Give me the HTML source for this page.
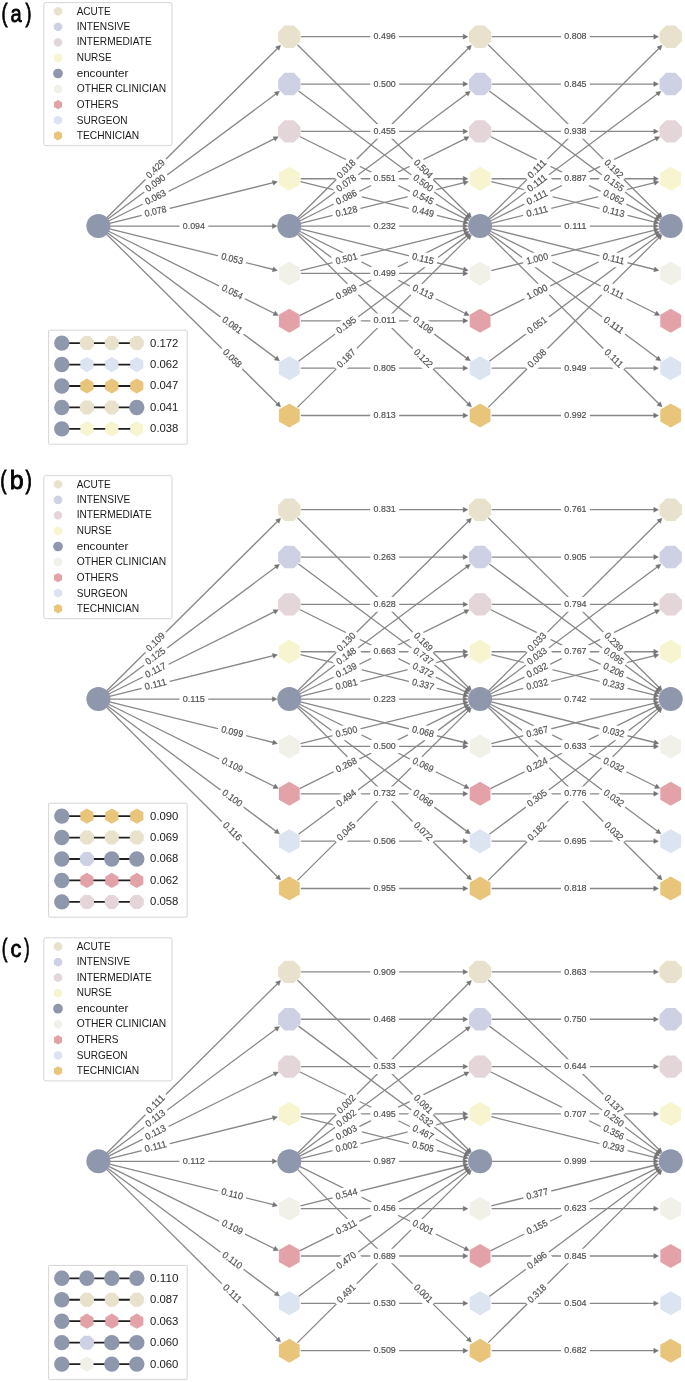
<!DOCTYPE html>
<html><head><meta charset="utf-8"><style>
html,body{margin:0;padding:0;background:#fff;}
svg{display:block;will-change:transform;}
text{font-family:"Liberation Sans",sans-serif;}
.e line{stroke:#888888;stroke-width:1.3;}
.h polygon{fill:#747474;stroke:#747474;stroke-width:0.4;stroke-linejoin:miter;}
.l rect{fill:#fff;}
.l text{font-size:9.5px;fill:#505050;stroke:#505050;stroke-width:0.18px;text-anchor:middle;}
.tag{font-size:27px;fill:#000;stroke:#000;stroke-width:0.9px;}
.lg{fill:#fff;fill-opacity:0.8;stroke:#d5d5d5;stroke-width:1;}
.lt{font-size:10.2px;fill:#1a1a1a;}
.pv{font-size:10.3px;fill:#1a1a1a;}
.pl{stroke:#1f1f1f;stroke-width:1.8;}
</style></head><body>
<svg width="685" height="1382" viewBox="0 0 685 1382">
<rect width="685" height="1382" fill="#fff"/>
<g class="e"><line x1="106.56" y1="218" x2="277.66" y2="48.25"/>
<line x1="107.63" y1="219.23" x2="276.14" y2="93.84"/>
<line x1="108.7" y1="220.99" x2="274.61" y2="138.69"/>
<line x1="109.56" y1="223.33" x2="273.38" y2="182.7"/>
<line x1="109.9" y1="226.1" x2="272.9" y2="226.1"/>
<line x1="109.56" y1="228.87" x2="273.38" y2="269.5"/>
<line x1="108.7" y1="231.21" x2="274.61" y2="313.51"/>
<line x1="107.63" y1="232.97" x2="276.14" y2="358.36"/>
<line x1="106.56" y1="234.2" x2="277.66" y2="403.95"/>
<line x1="300.8" y1="36.7" x2="463.7" y2="36.7"/>
<line x1="300.8" y1="84.05" x2="463.7" y2="84.05"/>
<line x1="300.8" y1="131.4" x2="463.7" y2="131.4"/>
<line x1="300.8" y1="178.75" x2="463.7" y2="178.75"/>
<line x1="300.8" y1="273.45" x2="463.7" y2="273.45"/>
<line x1="300.8" y1="320.8" x2="463.7" y2="320.8"/>
<line x1="300.8" y1="368.15" x2="463.7" y2="368.15"/>
<line x1="300.8" y1="415.5" x2="463.7" y2="415.5"/>
<line x1="297.46" y1="44.8" x2="468.46" y2="214.55"/>
<line x1="298.52" y1="90.92" x2="466.95" y2="216.31"/>
<line x1="299.6" y1="136.51" x2="465.41" y2="218.81"/>
<line x1="300.46" y1="181.52" x2="464.18" y2="222.15"/>
<line x1="300.46" y1="270.68" x2="464.18" y2="230.05"/>
<line x1="299.6" y1="315.69" x2="465.41" y2="233.39"/>
<line x1="298.52" y1="361.28" x2="466.95" y2="235.89"/>
<line x1="297.46" y1="407.4" x2="468.46" y2="237.65"/>
<line x1="297.46" y1="218" x2="468.46" y2="48.25"/>
<line x1="298.52" y1="219.23" x2="466.95" y2="93.84"/>
<line x1="299.6" y1="220.99" x2="465.41" y2="138.69"/>
<line x1="300.46" y1="223.33" x2="464.18" y2="182.7"/>
<line x1="300.8" y1="226.1" x2="463.7" y2="226.1"/>
<line x1="300.46" y1="228.87" x2="464.18" y2="269.5"/>
<line x1="299.6" y1="231.21" x2="465.41" y2="313.51"/>
<line x1="298.52" y1="232.97" x2="466.95" y2="358.36"/>
<line x1="297.46" y1="234.2" x2="468.46" y2="403.95"/>
<line x1="491.6" y1="36.7" x2="654.3" y2="36.7"/>
<line x1="491.6" y1="84.05" x2="654.3" y2="84.05"/>
<line x1="491.6" y1="131.4" x2="654.3" y2="131.4"/>
<line x1="491.6" y1="178.75" x2="654.3" y2="178.75"/>
<line x1="491.6" y1="368.15" x2="654.3" y2="368.15"/>
<line x1="491.6" y1="415.5" x2="654.3" y2="415.5"/>
<line x1="488.26" y1="44.81" x2="659.07" y2="214.54"/>
<line x1="489.32" y1="90.92" x2="657.55" y2="216.3"/>
<line x1="490.4" y1="136.52" x2="656.01" y2="218.8"/>
<line x1="491.26" y1="181.52" x2="654.78" y2="222.15"/>
<line x1="491.26" y1="270.68" x2="654.78" y2="230.05"/>
<line x1="490.4" y1="315.68" x2="656.01" y2="233.4"/>
<line x1="489.32" y1="361.28" x2="657.55" y2="235.9"/>
<line x1="488.26" y1="407.39" x2="659.07" y2="237.66"/>
<line x1="488.26" y1="217.99" x2="659.07" y2="48.26"/>
<line x1="489.32" y1="219.23" x2="657.55" y2="93.85"/>
<line x1="490.4" y1="220.98" x2="656.01" y2="138.7"/>
<line x1="491.26" y1="223.33" x2="654.78" y2="182.7"/>
<line x1="491.6" y1="226.1" x2="654.3" y2="226.1"/>
<line x1="491.26" y1="228.87" x2="654.78" y2="269.5"/>
<line x1="490.4" y1="231.22" x2="656.01" y2="313.5"/>
<line x1="489.32" y1="232.97" x2="657.55" y2="358.35"/>
<line x1="488.26" y1="234.21" x2="659.07" y2="403.94"/>
<line x1="106.56" y1="691" x2="277.66" y2="521.25"/>
<line x1="107.63" y1="692.23" x2="276.14" y2="566.84"/>
<line x1="108.7" y1="693.99" x2="274.61" y2="611.69"/>
<line x1="109.56" y1="696.33" x2="273.38" y2="655.7"/>
<line x1="109.9" y1="699.1" x2="272.9" y2="699.1"/>
<line x1="109.56" y1="701.87" x2="273.38" y2="742.5"/>
<line x1="108.7" y1="704.21" x2="274.61" y2="786.51"/>
<line x1="107.63" y1="705.97" x2="276.14" y2="831.36"/>
<line x1="106.56" y1="707.2" x2="277.66" y2="876.95"/>
<line x1="300.8" y1="509.7" x2="463.7" y2="509.7"/>
<line x1="300.8" y1="557.05" x2="463.7" y2="557.05"/>
<line x1="300.8" y1="604.4" x2="463.7" y2="604.4"/>
<line x1="300.8" y1="651.75" x2="463.7" y2="651.75"/>
<line x1="300.8" y1="746.45" x2="463.7" y2="746.45"/>
<line x1="300.8" y1="793.8" x2="463.7" y2="793.8"/>
<line x1="300.8" y1="841.15" x2="463.7" y2="841.15"/>
<line x1="300.8" y1="888.5" x2="463.7" y2="888.5"/>
<line x1="297.46" y1="517.8" x2="468.46" y2="687.55"/>
<line x1="298.52" y1="563.92" x2="466.95" y2="689.31"/>
<line x1="299.6" y1="609.51" x2="465.41" y2="691.81"/>
<line x1="300.46" y1="654.52" x2="464.18" y2="695.15"/>
<line x1="300.46" y1="743.68" x2="464.18" y2="703.05"/>
<line x1="299.6" y1="788.69" x2="465.41" y2="706.39"/>
<line x1="298.52" y1="834.28" x2="466.95" y2="708.89"/>
<line x1="297.46" y1="880.4" x2="468.46" y2="710.65"/>
<line x1="297.46" y1="691" x2="468.46" y2="521.25"/>
<line x1="298.52" y1="692.23" x2="466.95" y2="566.84"/>
<line x1="299.6" y1="693.99" x2="465.41" y2="611.69"/>
<line x1="300.46" y1="696.33" x2="464.18" y2="655.7"/>
<line x1="300.8" y1="699.1" x2="463.7" y2="699.1"/>
<line x1="300.46" y1="701.87" x2="464.18" y2="742.5"/>
<line x1="299.6" y1="704.21" x2="465.41" y2="786.51"/>
<line x1="298.52" y1="705.97" x2="466.95" y2="831.36"/>
<line x1="297.46" y1="707.2" x2="468.46" y2="876.95"/>
<line x1="491.6" y1="509.7" x2="654.3" y2="509.7"/>
<line x1="491.6" y1="557.05" x2="654.3" y2="557.05"/>
<line x1="491.6" y1="604.4" x2="654.3" y2="604.4"/>
<line x1="491.6" y1="651.75" x2="654.3" y2="651.75"/>
<line x1="491.6" y1="746.45" x2="654.3" y2="746.45"/>
<line x1="491.6" y1="793.8" x2="654.3" y2="793.8"/>
<line x1="491.6" y1="841.15" x2="654.3" y2="841.15"/>
<line x1="491.6" y1="888.5" x2="654.3" y2="888.5"/>
<line x1="488.26" y1="517.81" x2="659.07" y2="687.54"/>
<line x1="489.32" y1="563.92" x2="657.55" y2="689.3"/>
<line x1="490.4" y1="609.52" x2="656.01" y2="691.8"/>
<line x1="491.26" y1="654.52" x2="654.78" y2="695.15"/>
<line x1="491.26" y1="743.68" x2="654.78" y2="703.05"/>
<line x1="490.4" y1="788.68" x2="656.01" y2="706.4"/>
<line x1="489.32" y1="834.28" x2="657.55" y2="708.9"/>
<line x1="488.26" y1="880.39" x2="659.07" y2="710.66"/>
<line x1="488.26" y1="690.99" x2="659.07" y2="521.26"/>
<line x1="489.32" y1="692.23" x2="657.55" y2="566.85"/>
<line x1="490.4" y1="693.98" x2="656.01" y2="611.7"/>
<line x1="491.26" y1="696.33" x2="654.78" y2="655.7"/>
<line x1="491.6" y1="699.1" x2="654.3" y2="699.1"/>
<line x1="491.26" y1="701.87" x2="654.78" y2="742.5"/>
<line x1="490.4" y1="704.22" x2="656.01" y2="786.5"/>
<line x1="489.32" y1="705.97" x2="657.55" y2="831.35"/>
<line x1="488.26" y1="707.21" x2="659.07" y2="876.94"/>
<line x1="106.56" y1="1153.2" x2="277.66" y2="983.45"/>
<line x1="107.63" y1="1154.43" x2="276.14" y2="1029.04"/>
<line x1="108.7" y1="1156.19" x2="274.61" y2="1073.89"/>
<line x1="109.56" y1="1158.53" x2="273.38" y2="1117.9"/>
<line x1="109.9" y1="1161.3" x2="272.9" y2="1161.3"/>
<line x1="109.56" y1="1164.07" x2="273.38" y2="1204.7"/>
<line x1="108.7" y1="1166.41" x2="274.61" y2="1248.71"/>
<line x1="107.63" y1="1168.17" x2="276.14" y2="1293.56"/>
<line x1="106.56" y1="1169.4" x2="277.66" y2="1339.15"/>
<line x1="300.8" y1="971.9" x2="463.7" y2="971.9"/>
<line x1="300.8" y1="1019.25" x2="463.7" y2="1019.25"/>
<line x1="300.8" y1="1066.6" x2="463.7" y2="1066.6"/>
<line x1="300.8" y1="1113.95" x2="463.7" y2="1113.95"/>
<line x1="300.8" y1="1208.65" x2="463.7" y2="1208.65"/>
<line x1="300.8" y1="1256" x2="463.7" y2="1256"/>
<line x1="300.8" y1="1303.35" x2="463.7" y2="1303.35"/>
<line x1="300.8" y1="1350.7" x2="463.7" y2="1350.7"/>
<line x1="297.46" y1="980" x2="468.46" y2="1149.75"/>
<line x1="298.52" y1="1026.12" x2="466.95" y2="1151.51"/>
<line x1="299.6" y1="1071.71" x2="465.41" y2="1154.01"/>
<line x1="300.46" y1="1116.72" x2="464.18" y2="1157.35"/>
<line x1="300.46" y1="1205.88" x2="464.18" y2="1165.25"/>
<line x1="299.6" y1="1250.89" x2="465.41" y2="1168.59"/>
<line x1="298.52" y1="1296.48" x2="466.95" y2="1171.09"/>
<line x1="297.46" y1="1342.6" x2="468.46" y2="1172.85"/>
<line x1="297.46" y1="1153.2" x2="468.46" y2="983.45"/>
<line x1="298.52" y1="1154.43" x2="466.95" y2="1029.04"/>
<line x1="299.6" y1="1156.19" x2="465.41" y2="1073.89"/>
<line x1="300.46" y1="1158.53" x2="464.18" y2="1117.9"/>
<line x1="300.8" y1="1161.3" x2="463.7" y2="1161.3"/>
<line x1="299.6" y1="1166.41" x2="465.41" y2="1248.71"/>
<line x1="297.46" y1="1169.4" x2="468.46" y2="1339.15"/>
<line x1="491.6" y1="971.9" x2="654.3" y2="971.9"/>
<line x1="491.6" y1="1019.25" x2="654.3" y2="1019.25"/>
<line x1="491.6" y1="1066.6" x2="654.3" y2="1066.6"/>
<line x1="491.6" y1="1113.95" x2="654.3" y2="1113.95"/>
<line x1="491.6" y1="1208.65" x2="654.3" y2="1208.65"/>
<line x1="491.6" y1="1256" x2="654.3" y2="1256"/>
<line x1="491.6" y1="1303.35" x2="654.3" y2="1303.35"/>
<line x1="491.6" y1="1350.7" x2="654.3" y2="1350.7"/>
<line x1="488.26" y1="980.01" x2="659.07" y2="1149.74"/>
<line x1="489.32" y1="1026.12" x2="657.55" y2="1151.5"/>
<line x1="490.4" y1="1071.72" x2="656.01" y2="1154"/>
<line x1="491.26" y1="1116.72" x2="654.78" y2="1157.35"/>
<line x1="491.26" y1="1205.88" x2="654.78" y2="1165.25"/>
<line x1="490.4" y1="1250.88" x2="656.01" y2="1168.6"/>
<line x1="489.32" y1="1296.48" x2="657.55" y2="1171.1"/>
<line x1="488.26" y1="1342.59" x2="659.07" y2="1172.86"/>
<line x1="491.6" y1="1161.3" x2="654.3" y2="1161.3"/></g>
<g class="h"><polygon points="280.64,45.29 279.03,50.34 275.58,46.86"/>
<polygon points="279.51,91.33 277.2,96.1 274.28,92.17"/>
<polygon points="278.37,136.82 275.25,141.11 273.07,136.72"/>
<polygon points="277.46,181.69 273.49,185.2 272.31,180.44"/>
<polygon points="277.1,226.1 272.4,228.55 272.4,223.65"/>
<polygon points="277.46,270.51 272.31,271.76 273.49,267"/>
<polygon points="278.37,315.38 273.07,315.48 275.25,311.09"/>
<polygon points="279.51,360.87 274.28,360.03 277.2,356.1"/>
<polygon points="280.64,406.91 275.58,405.34 279.03,401.86"/>
<polygon points="467.9,36.7 463.2,39.15 463.2,34.25"/>
<polygon points="467.9,84.05 463.2,86.5 463.2,81.6"/>
<polygon points="467.9,131.4 463.2,133.85 463.2,128.95"/>
<polygon points="467.9,178.75 463.2,181.2 463.2,176.3"/>
<polygon points="467.9,273.45 463.2,275.9 463.2,271"/>
<polygon points="467.9,320.8 463.2,323.25 463.2,318.35"/>
<polygon points="467.9,368.15 463.2,370.6 463.2,365.7"/>
<polygon points="467.9,415.5 463.2,417.95 463.2,413.05"/>
<polygon points="471.44,217.51 466.38,215.93 469.83,212.46"/>
<polygon points="470.31,218.81 465.08,217.97 468.01,214.04"/>
<polygon points="469.17,220.68 463.87,220.78 466.05,216.39"/>
<polygon points="468.26,223.16 463.11,224.41 464.29,219.65"/>
<polygon points="468.26,229.04 464.29,232.55 463.11,227.79"/>
<polygon points="469.17,231.52 466.05,235.81 463.87,231.42"/>
<polygon points="470.31,233.39 468.01,238.16 465.08,234.23"/>
<polygon points="471.44,234.69 469.83,239.74 466.38,236.27"/>
<polygon points="471.44,45.29 469.83,50.34 466.38,46.87"/>
<polygon points="470.31,91.34 468.01,96.11 465.08,92.18"/>
<polygon points="469.17,136.82 466.05,141.11 463.87,136.72"/>
<polygon points="468.26,181.69 464.29,185.2 463.11,180.44"/>
<polygon points="467.9,226.1 463.2,228.55 463.2,223.65"/>
<polygon points="468.26,270.51 463.11,271.76 464.29,267"/>
<polygon points="469.17,315.38 463.87,315.48 466.05,311.09"/>
<polygon points="470.31,360.86 465.08,360.02 468.01,356.09"/>
<polygon points="471.44,406.91 466.38,405.33 469.83,401.86"/>
<polygon points="658.5,36.7 653.8,39.15 653.8,34.25"/>
<polygon points="658.5,84.05 653.8,86.5 653.8,81.6"/>
<polygon points="658.5,131.4 653.8,133.85 653.8,128.95"/>
<polygon points="658.5,178.75 653.8,181.2 653.8,176.3"/>
<polygon points="658.5,368.15 653.8,370.6 653.8,365.7"/>
<polygon points="658.5,415.5 653.8,417.95 653.8,413.05"/>
<polygon points="662.05,217.5 656.99,215.93 660.44,212.45"/>
<polygon points="660.92,218.81 655.69,217.97 658.61,214.04"/>
<polygon points="659.77,220.67 654.48,220.77 656.66,216.39"/>
<polygon points="658.86,223.16 653.71,224.4 654.89,219.65"/>
<polygon points="658.86,229.04 654.89,232.55 653.71,227.8"/>
<polygon points="659.77,231.53 656.66,235.81 654.48,231.43"/>
<polygon points="660.92,233.39 658.61,238.16 655.69,234.23"/>
<polygon points="662.05,234.7 660.44,239.75 656.99,236.27"/>
<polygon points="662.05,45.3 660.44,50.35 656.99,46.87"/>
<polygon points="660.92,91.34 658.61,96.11 655.69,92.18"/>
<polygon points="659.77,136.83 656.66,141.11 654.48,136.73"/>
<polygon points="658.86,181.69 654.89,185.2 653.71,180.45"/>
<polygon points="658.5,226.1 653.8,228.55 653.8,223.65"/>
<polygon points="658.86,270.51 653.71,271.75 654.89,267"/>
<polygon points="659.77,315.37 654.48,315.47 656.66,311.09"/>
<polygon points="660.92,360.86 655.69,360.02 658.61,356.09"/>
<polygon points="662.05,406.9 656.99,405.33 660.44,401.85"/>
<polygon points="280.64,518.29 279.03,523.34 275.58,519.86"/>
<polygon points="279.51,564.33 277.2,569.1 274.28,565.17"/>
<polygon points="278.37,609.82 275.25,614.11 273.07,609.72"/>
<polygon points="277.46,654.69 273.49,658.2 272.31,653.44"/>
<polygon points="277.1,699.1 272.4,701.55 272.4,696.65"/>
<polygon points="277.46,743.51 272.31,744.76 273.49,740"/>
<polygon points="278.37,788.38 273.07,788.48 275.25,784.09"/>
<polygon points="279.51,833.87 274.28,833.03 277.2,829.1"/>
<polygon points="280.64,879.91 275.58,878.34 279.03,874.86"/>
<polygon points="467.9,509.7 463.2,512.15 463.2,507.25"/>
<polygon points="467.9,557.05 463.2,559.5 463.2,554.6"/>
<polygon points="467.9,604.4 463.2,606.85 463.2,601.95"/>
<polygon points="467.9,651.75 463.2,654.2 463.2,649.3"/>
<polygon points="467.9,746.45 463.2,748.9 463.2,744"/>
<polygon points="467.9,793.8 463.2,796.25 463.2,791.35"/>
<polygon points="467.9,841.15 463.2,843.6 463.2,838.7"/>
<polygon points="467.9,888.5 463.2,890.95 463.2,886.05"/>
<polygon points="471.44,690.51 466.38,688.93 469.83,685.46"/>
<polygon points="470.31,691.81 465.08,690.97 468.01,687.04"/>
<polygon points="469.17,693.68 463.87,693.78 466.05,689.39"/>
<polygon points="468.26,696.16 463.11,697.41 464.29,692.65"/>
<polygon points="468.26,702.04 464.29,705.55 463.11,700.79"/>
<polygon points="469.17,704.52 466.05,708.81 463.87,704.42"/>
<polygon points="470.31,706.39 468.01,711.16 465.08,707.23"/>
<polygon points="471.44,707.69 469.83,712.74 466.38,709.27"/>
<polygon points="471.44,518.29 469.83,523.34 466.38,519.87"/>
<polygon points="470.31,564.34 468.01,569.11 465.08,565.18"/>
<polygon points="469.17,609.82 466.05,614.11 463.87,609.72"/>
<polygon points="468.26,654.69 464.29,658.2 463.11,653.44"/>
<polygon points="467.9,699.1 463.2,701.55 463.2,696.65"/>
<polygon points="468.26,743.51 463.11,744.76 464.29,740"/>
<polygon points="469.17,788.38 463.87,788.48 466.05,784.09"/>
<polygon points="470.31,833.86 465.08,833.02 468.01,829.09"/>
<polygon points="471.44,879.91 466.38,878.33 469.83,874.86"/>
<polygon points="658.5,509.7 653.8,512.15 653.8,507.25"/>
<polygon points="658.5,557.05 653.8,559.5 653.8,554.6"/>
<polygon points="658.5,604.4 653.8,606.85 653.8,601.95"/>
<polygon points="658.5,651.75 653.8,654.2 653.8,649.3"/>
<polygon points="658.5,746.45 653.8,748.9 653.8,744"/>
<polygon points="658.5,793.8 653.8,796.25 653.8,791.35"/>
<polygon points="658.5,841.15 653.8,843.6 653.8,838.7"/>
<polygon points="658.5,888.5 653.8,890.95 653.8,886.05"/>
<polygon points="662.05,690.5 656.99,688.93 660.44,685.45"/>
<polygon points="660.92,691.81 655.69,690.97 658.61,687.04"/>
<polygon points="659.77,693.67 654.48,693.77 656.66,689.39"/>
<polygon points="658.86,696.16 653.71,697.4 654.89,692.65"/>
<polygon points="658.86,702.04 654.89,705.55 653.71,700.8"/>
<polygon points="659.77,704.53 656.66,708.81 654.48,704.43"/>
<polygon points="660.92,706.39 658.61,711.16 655.69,707.23"/>
<polygon points="662.05,707.7 660.44,712.75 656.99,709.27"/>
<polygon points="662.05,518.3 660.44,523.35 656.99,519.87"/>
<polygon points="660.92,564.34 658.61,569.11 655.69,565.18"/>
<polygon points="659.77,609.83 656.66,614.11 654.48,609.73"/>
<polygon points="658.86,654.69 654.89,658.2 653.71,653.45"/>
<polygon points="658.5,699.1 653.8,701.55 653.8,696.65"/>
<polygon points="658.86,743.51 653.71,744.75 654.89,740"/>
<polygon points="659.77,788.37 654.48,788.47 656.66,784.09"/>
<polygon points="660.92,833.86 655.69,833.02 658.61,829.09"/>
<polygon points="662.05,879.9 656.99,878.33 660.44,874.85"/>
<polygon points="280.64,980.49 279.03,985.54 275.58,982.06"/>
<polygon points="279.51,1026.53 277.2,1031.3 274.28,1027.37"/>
<polygon points="278.37,1072.02 275.25,1076.31 273.07,1071.92"/>
<polygon points="277.46,1116.89 273.49,1120.4 272.31,1115.64"/>
<polygon points="277.1,1161.3 272.4,1163.75 272.4,1158.85"/>
<polygon points="277.46,1205.71 272.31,1206.96 273.49,1202.2"/>
<polygon points="278.37,1250.58 273.07,1250.68 275.25,1246.29"/>
<polygon points="279.51,1296.07 274.28,1295.23 277.2,1291.3"/>
<polygon points="280.64,1342.11 275.58,1340.54 279.03,1337.06"/>
<polygon points="467.9,971.9 463.2,974.35 463.2,969.45"/>
<polygon points="467.9,1019.25 463.2,1021.7 463.2,1016.8"/>
<polygon points="467.9,1066.6 463.2,1069.05 463.2,1064.15"/>
<polygon points="467.9,1113.95 463.2,1116.4 463.2,1111.5"/>
<polygon points="467.9,1208.65 463.2,1211.1 463.2,1206.2"/>
<polygon points="467.9,1256 463.2,1258.45 463.2,1253.55"/>
<polygon points="467.9,1303.35 463.2,1305.8 463.2,1300.9"/>
<polygon points="467.9,1350.7 463.2,1353.15 463.2,1348.25"/>
<polygon points="471.44,1152.71 466.38,1151.13 469.83,1147.66"/>
<polygon points="470.31,1154.01 465.08,1153.17 468.01,1149.24"/>
<polygon points="469.17,1155.88 463.87,1155.98 466.05,1151.59"/>
<polygon points="468.26,1158.36 463.11,1159.61 464.29,1154.85"/>
<polygon points="468.26,1164.24 464.29,1167.75 463.11,1162.99"/>
<polygon points="469.17,1166.72 466.05,1171.01 463.87,1166.62"/>
<polygon points="470.31,1168.59 468.01,1173.36 465.08,1169.43"/>
<polygon points="471.44,1169.89 469.83,1174.94 466.38,1171.47"/>
<polygon points="471.44,980.49 469.83,985.54 466.38,982.07"/>
<polygon points="470.31,1026.54 468.01,1031.31 465.08,1027.38"/>
<polygon points="469.17,1072.02 466.05,1076.31 463.87,1071.92"/>
<polygon points="468.26,1116.89 464.29,1120.4 463.11,1115.64"/>
<polygon points="467.9,1161.3 463.2,1163.75 463.2,1158.85"/>
<polygon points="469.17,1250.58 463.87,1250.68 466.05,1246.29"/>
<polygon points="471.44,1342.11 466.38,1340.53 469.83,1337.06"/>
<polygon points="658.5,971.9 653.8,974.35 653.8,969.45"/>
<polygon points="658.5,1019.25 653.8,1021.7 653.8,1016.8"/>
<polygon points="658.5,1066.6 653.8,1069.05 653.8,1064.15"/>
<polygon points="658.5,1113.95 653.8,1116.4 653.8,1111.5"/>
<polygon points="658.5,1208.65 653.8,1211.1 653.8,1206.2"/>
<polygon points="658.5,1256 653.8,1258.45 653.8,1253.55"/>
<polygon points="658.5,1303.35 653.8,1305.8 653.8,1300.9"/>
<polygon points="658.5,1350.7 653.8,1353.15 653.8,1348.25"/>
<polygon points="662.05,1152.7 656.99,1151.13 660.44,1147.65"/>
<polygon points="660.92,1154.01 655.69,1153.17 658.61,1149.24"/>
<polygon points="659.77,1155.87 654.48,1155.97 656.66,1151.59"/>
<polygon points="658.86,1158.36 653.71,1159.6 654.89,1154.85"/>
<polygon points="658.86,1164.24 654.89,1167.75 653.71,1163"/>
<polygon points="659.77,1166.73 656.66,1171.01 654.48,1166.63"/>
<polygon points="660.92,1168.59 658.61,1173.36 655.69,1169.43"/>
<polygon points="662.05,1169.9 660.44,1174.95 656.99,1171.47"/>
<polygon points="658.5,1161.3 653.8,1163.75 653.8,1158.85"/></g>
<g class="l"><g transform="translate(155.67 169.28) rotate(-44.77)"><rect x="-14.39" y="-7.3" width="28.79" height="14.6" rx="2.6"/><text x="0" y="2.6" textLength="22.19" lengthAdjust="spacingAndGlyphs">0.429</text></g>
<g transform="translate(155.67 183.49) rotate(-36.65)"><rect x="-14.39" y="-7.3" width="28.79" height="14.6" rx="2.6"/><text x="0" y="2.6" textLength="22.19" lengthAdjust="spacingAndGlyphs">0.090</text></g>
<g transform="translate(155.67 197.69) rotate(-26.38)"><rect x="-14.39" y="-7.3" width="28.79" height="14.6" rx="2.6"/><text x="0" y="2.6" textLength="22.19" lengthAdjust="spacingAndGlyphs">0.063</text></g>
<g transform="translate(155.67 211.9) rotate(-13.93)"><rect x="-14.39" y="-7.3" width="28.79" height="14.6" rx="2.6"/><text x="0" y="2.6" textLength="22.19" lengthAdjust="spacingAndGlyphs">0.078</text></g>
<g transform="translate(193.85 226.1) rotate(0)"><rect x="-14.39" y="-7.3" width="28.79" height="14.6" rx="2.6"/><text x="0" y="2.6" textLength="22.19" lengthAdjust="spacingAndGlyphs">0.094</text></g>
<g transform="translate(232.03 259.25) rotate(13.93)"><rect x="-14.39" y="-7.3" width="28.79" height="14.6" rx="2.6"/><text x="0" y="2.6" textLength="22.19" lengthAdjust="spacingAndGlyphs">0.053</text></g>
<g transform="translate(232.03 292.39) rotate(26.38)"><rect x="-14.39" y="-7.3" width="28.79" height="14.6" rx="2.6"/><text x="0" y="2.6" textLength="22.19" lengthAdjust="spacingAndGlyphs">0.054</text></g>
<g transform="translate(232.03 325.53) rotate(36.65)"><rect x="-14.39" y="-7.3" width="28.79" height="14.6" rx="2.6"/><text x="0" y="2.6" textLength="22.19" lengthAdjust="spacingAndGlyphs">0.081</text></g>
<g transform="translate(232.03 358.68) rotate(44.77)"><rect x="-14.39" y="-7.3" width="28.79" height="14.6" rx="2.6"/><text x="0" y="2.6" textLength="22.19" lengthAdjust="spacingAndGlyphs">0.058</text></g>
<g transform="translate(384.7 36.7) rotate(0)"><rect x="-14.39" y="-7.3" width="28.79" height="14.6" rx="2.6"/><text x="0" y="2.6" textLength="22.19" lengthAdjust="spacingAndGlyphs">0.496</text></g>
<g transform="translate(384.7 84.05) rotate(0)"><rect x="-14.39" y="-7.3" width="28.79" height="14.6" rx="2.6"/><text x="0" y="2.6" textLength="22.19" lengthAdjust="spacingAndGlyphs">0.500</text></g>
<g transform="translate(384.7 131.4) rotate(0)"><rect x="-14.39" y="-7.3" width="28.79" height="14.6" rx="2.6"/><text x="0" y="2.6" textLength="22.19" lengthAdjust="spacingAndGlyphs">0.455</text></g>
<g transform="translate(384.7 178.75) rotate(0)"><rect x="-14.39" y="-7.3" width="28.79" height="14.6" rx="2.6"/><text x="0" y="2.6" textLength="22.19" lengthAdjust="spacingAndGlyphs">0.551</text></g>
<g transform="translate(384.7 273.45) rotate(0)"><rect x="-14.39" y="-7.3" width="28.79" height="14.6" rx="2.6"/><text x="0" y="2.6" textLength="22.19" lengthAdjust="spacingAndGlyphs">0.499</text></g>
<g transform="translate(384.7 320.8) rotate(0)"><rect x="-14.39" y="-7.3" width="28.79" height="14.6" rx="2.6"/><text x="0" y="2.6" textLength="22.19" lengthAdjust="spacingAndGlyphs">0.011</text></g>
<g transform="translate(384.7 368.15) rotate(0)"><rect x="-14.39" y="-7.3" width="28.79" height="14.6" rx="2.6"/><text x="0" y="2.6" textLength="22.19" lengthAdjust="spacingAndGlyphs">0.805</text></g>
<g transform="translate(384.7 415.5) rotate(0)"><rect x="-14.39" y="-7.3" width="28.79" height="14.6" rx="2.6"/><text x="0" y="2.6" textLength="22.19" lengthAdjust="spacingAndGlyphs">0.813</text></g>
<g transform="translate(422.86 169.28) rotate(44.79)"><rect x="-14.39" y="-7.3" width="28.79" height="14.6" rx="2.6"/><text x="0" y="2.6" textLength="22.19" lengthAdjust="spacingAndGlyphs">0.504</text></g>
<g transform="translate(422.86 183.49) rotate(36.67)"><rect x="-14.39" y="-7.3" width="28.79" height="14.6" rx="2.6"/><text x="0" y="2.6" textLength="22.19" lengthAdjust="spacingAndGlyphs">0.500</text></g>
<g transform="translate(422.86 197.69) rotate(26.4)"><rect x="-14.39" y="-7.3" width="28.79" height="14.6" rx="2.6"/><text x="0" y="2.6" textLength="22.19" lengthAdjust="spacingAndGlyphs">0.545</text></g>
<g transform="translate(422.86 211.9) rotate(13.94)"><rect x="-14.39" y="-7.3" width="28.79" height="14.6" rx="2.6"/><text x="0" y="2.6" textLength="22.19" lengthAdjust="spacingAndGlyphs">0.449</text></g>
<g transform="translate(346.54 259.25) rotate(-13.94)"><rect x="-14.39" y="-7.3" width="28.79" height="14.6" rx="2.6"/><text x="0" y="2.6" textLength="22.19" lengthAdjust="spacingAndGlyphs">0.501</text></g>
<g transform="translate(346.54 292.39) rotate(-26.4)"><rect x="-14.39" y="-7.3" width="28.79" height="14.6" rx="2.6"/><text x="0" y="2.6" textLength="22.19" lengthAdjust="spacingAndGlyphs">0.989</text></g>
<g transform="translate(346.54 325.53) rotate(-36.67)"><rect x="-14.39" y="-7.3" width="28.79" height="14.6" rx="2.6"/><text x="0" y="2.6" textLength="22.19" lengthAdjust="spacingAndGlyphs">0.195</text></g>
<g transform="translate(346.54 358.68) rotate(-44.79)"><rect x="-14.39" y="-7.3" width="28.79" height="14.6" rx="2.6"/><text x="0" y="2.6" textLength="22.19" lengthAdjust="spacingAndGlyphs">0.187</text></g>
<g transform="translate(346.54 169.28) rotate(-44.79)"><rect x="-14.39" y="-7.3" width="28.79" height="14.6" rx="2.6"/><text x="0" y="2.6" textLength="22.19" lengthAdjust="spacingAndGlyphs">0.018</text></g>
<g transform="translate(346.54 183.49) rotate(-36.67)"><rect x="-14.39" y="-7.3" width="28.79" height="14.6" rx="2.6"/><text x="0" y="2.6" textLength="22.19" lengthAdjust="spacingAndGlyphs">0.078</text></g>
<g transform="translate(346.54 197.69) rotate(-26.4)"><rect x="-14.39" y="-7.3" width="28.79" height="14.6" rx="2.6"/><text x="0" y="2.6" textLength="22.19" lengthAdjust="spacingAndGlyphs">0.086</text></g>
<g transform="translate(346.54 211.9) rotate(-13.94)"><rect x="-14.39" y="-7.3" width="28.79" height="14.6" rx="2.6"/><text x="0" y="2.6" textLength="22.19" lengthAdjust="spacingAndGlyphs">0.128</text></g>
<g transform="translate(384.7 226.1) rotate(0)"><rect x="-14.39" y="-7.3" width="28.79" height="14.6" rx="2.6"/><text x="0" y="2.6" textLength="22.19" lengthAdjust="spacingAndGlyphs">0.232</text></g>
<g transform="translate(422.86 259.25) rotate(13.94)"><rect x="-14.39" y="-7.3" width="28.79" height="14.6" rx="2.6"/><text x="0" y="2.6" textLength="22.19" lengthAdjust="spacingAndGlyphs">0.115</text></g>
<g transform="translate(422.86 292.39) rotate(26.4)"><rect x="-14.39" y="-7.3" width="28.79" height="14.6" rx="2.6"/><text x="0" y="2.6" textLength="22.19" lengthAdjust="spacingAndGlyphs">0.113</text></g>
<g transform="translate(422.86 325.53) rotate(36.67)"><rect x="-14.39" y="-7.3" width="28.79" height="14.6" rx="2.6"/><text x="0" y="2.6" textLength="22.19" lengthAdjust="spacingAndGlyphs">0.108</text></g>
<g transform="translate(422.86 358.68) rotate(44.79)"><rect x="-14.39" y="-7.3" width="28.79" height="14.6" rx="2.6"/><text x="0" y="2.6" textLength="22.19" lengthAdjust="spacingAndGlyphs">0.122</text></g>
<g transform="translate(575.4 36.7) rotate(0)"><rect x="-14.39" y="-7.3" width="28.79" height="14.6" rx="2.6"/><text x="0" y="2.6" textLength="22.19" lengthAdjust="spacingAndGlyphs">0.808</text></g>
<g transform="translate(575.4 84.05) rotate(0)"><rect x="-14.39" y="-7.3" width="28.79" height="14.6" rx="2.6"/><text x="0" y="2.6" textLength="22.19" lengthAdjust="spacingAndGlyphs">0.845</text></g>
<g transform="translate(575.4 131.4) rotate(0)"><rect x="-14.39" y="-7.3" width="28.79" height="14.6" rx="2.6"/><text x="0" y="2.6" textLength="22.19" lengthAdjust="spacingAndGlyphs">0.938</text></g>
<g transform="translate(575.4 178.75) rotate(0)"><rect x="-14.39" y="-7.3" width="28.79" height="14.6" rx="2.6"/><text x="0" y="2.6" textLength="22.19" lengthAdjust="spacingAndGlyphs">0.887</text></g>
<g transform="translate(575.4 368.15) rotate(0)"><rect x="-14.39" y="-7.3" width="28.79" height="14.6" rx="2.6"/><text x="0" y="2.6" textLength="22.19" lengthAdjust="spacingAndGlyphs">0.949</text></g>
<g transform="translate(575.4 415.5) rotate(0)"><rect x="-14.39" y="-7.3" width="28.79" height="14.6" rx="2.6"/><text x="0" y="2.6" textLength="22.19" lengthAdjust="spacingAndGlyphs">0.992</text></g>
<g transform="translate(613.52 169.28) rotate(44.82)"><rect x="-14.39" y="-7.3" width="28.79" height="14.6" rx="2.6"/><text x="0" y="2.6" textLength="22.19" lengthAdjust="spacingAndGlyphs">0.192</text></g>
<g transform="translate(613.52 183.49) rotate(36.7)"><rect x="-14.39" y="-7.3" width="28.79" height="14.6" rx="2.6"/><text x="0" y="2.6" textLength="22.19" lengthAdjust="spacingAndGlyphs">0.155</text></g>
<g transform="translate(613.52 197.69) rotate(26.42)"><rect x="-14.39" y="-7.3" width="28.79" height="14.6" rx="2.6"/><text x="0" y="2.6" textLength="22.19" lengthAdjust="spacingAndGlyphs">0.062</text></g>
<g transform="translate(613.52 211.9) rotate(13.95)"><rect x="-14.39" y="-7.3" width="28.79" height="14.6" rx="2.6"/><text x="0" y="2.6" textLength="22.19" lengthAdjust="spacingAndGlyphs">0.113</text></g>
<g transform="translate(537.28 259.25) rotate(-13.95)"><rect x="-14.39" y="-7.3" width="28.79" height="14.6" rx="2.6"/><text x="0" y="2.6" textLength="22.19" lengthAdjust="spacingAndGlyphs">1.000</text></g>
<g transform="translate(537.28 292.39) rotate(-26.42)"><rect x="-14.39" y="-7.3" width="28.79" height="14.6" rx="2.6"/><text x="0" y="2.6" textLength="22.19" lengthAdjust="spacingAndGlyphs">1.000</text></g>
<g transform="translate(537.28 325.53) rotate(-36.7)"><rect x="-14.39" y="-7.3" width="28.79" height="14.6" rx="2.6"/><text x="0" y="2.6" textLength="22.19" lengthAdjust="spacingAndGlyphs">0.051</text></g>
<g transform="translate(537.28 358.68) rotate(-44.82)"><rect x="-14.39" y="-7.3" width="28.79" height="14.6" rx="2.6"/><text x="0" y="2.6" textLength="22.19" lengthAdjust="spacingAndGlyphs">0.008</text></g>
<g transform="translate(537.28 169.28) rotate(-44.82)"><rect x="-14.39" y="-7.3" width="28.79" height="14.6" rx="2.6"/><text x="0" y="2.6" textLength="22.19" lengthAdjust="spacingAndGlyphs">0.111</text></g>
<g transform="translate(537.28 183.49) rotate(-36.7)"><rect x="-14.39" y="-7.3" width="28.79" height="14.6" rx="2.6"/><text x="0" y="2.6" textLength="22.19" lengthAdjust="spacingAndGlyphs">0.111</text></g>
<g transform="translate(537.28 197.69) rotate(-26.42)"><rect x="-14.39" y="-7.3" width="28.79" height="14.6" rx="2.6"/><text x="0" y="2.6" textLength="22.19" lengthAdjust="spacingAndGlyphs">0.111</text></g>
<g transform="translate(537.28 211.9) rotate(-13.95)"><rect x="-14.39" y="-7.3" width="28.79" height="14.6" rx="2.6"/><text x="0" y="2.6" textLength="22.19" lengthAdjust="spacingAndGlyphs">0.111</text></g>
<g transform="translate(575.4 226.1) rotate(0)"><rect x="-14.39" y="-7.3" width="28.79" height="14.6" rx="2.6"/><text x="0" y="2.6" textLength="22.19" lengthAdjust="spacingAndGlyphs">0.111</text></g>
<g transform="translate(613.52 259.25) rotate(13.95)"><rect x="-14.39" y="-7.3" width="28.79" height="14.6" rx="2.6"/><text x="0" y="2.6" textLength="22.19" lengthAdjust="spacingAndGlyphs">0.111</text></g>
<g transform="translate(613.52 292.39) rotate(26.42)"><rect x="-14.39" y="-7.3" width="28.79" height="14.6" rx="2.6"/><text x="0" y="2.6" textLength="22.19" lengthAdjust="spacingAndGlyphs">0.111</text></g>
<g transform="translate(613.52 325.53) rotate(36.7)"><rect x="-14.39" y="-7.3" width="28.79" height="14.6" rx="2.6"/><text x="0" y="2.6" textLength="22.19" lengthAdjust="spacingAndGlyphs">0.111</text></g>
<g transform="translate(613.52 358.68) rotate(44.82)"><rect x="-14.39" y="-7.3" width="28.79" height="14.6" rx="2.6"/><text x="0" y="2.6" textLength="22.19" lengthAdjust="spacingAndGlyphs">0.111</text></g>
<g transform="translate(155.67 642.28) rotate(-44.77)"><rect x="-14.39" y="-7.3" width="28.79" height="14.6" rx="2.6"/><text x="0" y="2.6" textLength="22.19" lengthAdjust="spacingAndGlyphs">0.109</text></g>
<g transform="translate(155.67 656.49) rotate(-36.65)"><rect x="-14.39" y="-7.3" width="28.79" height="14.6" rx="2.6"/><text x="0" y="2.6" textLength="22.19" lengthAdjust="spacingAndGlyphs">0.125</text></g>
<g transform="translate(155.67 670.69) rotate(-26.38)"><rect x="-14.39" y="-7.3" width="28.79" height="14.6" rx="2.6"/><text x="0" y="2.6" textLength="22.19" lengthAdjust="spacingAndGlyphs">0.117</text></g>
<g transform="translate(155.67 684.89) rotate(-13.93)"><rect x="-14.39" y="-7.3" width="28.79" height="14.6" rx="2.6"/><text x="0" y="2.6" textLength="22.19" lengthAdjust="spacingAndGlyphs">0.111</text></g>
<g transform="translate(193.85 699.1) rotate(0)"><rect x="-14.39" y="-7.3" width="28.79" height="14.6" rx="2.6"/><text x="0" y="2.6" textLength="22.19" lengthAdjust="spacingAndGlyphs">0.115</text></g>
<g transform="translate(232.03 732.25) rotate(13.93)"><rect x="-14.39" y="-7.3" width="28.79" height="14.6" rx="2.6"/><text x="0" y="2.6" textLength="22.19" lengthAdjust="spacingAndGlyphs">0.099</text></g>
<g transform="translate(232.03 765.39) rotate(26.38)"><rect x="-14.39" y="-7.3" width="28.79" height="14.6" rx="2.6"/><text x="0" y="2.6" textLength="22.19" lengthAdjust="spacingAndGlyphs">0.109</text></g>
<g transform="translate(232.03 798.53) rotate(36.65)"><rect x="-14.39" y="-7.3" width="28.79" height="14.6" rx="2.6"/><text x="0" y="2.6" textLength="22.19" lengthAdjust="spacingAndGlyphs">0.100</text></g>
<g transform="translate(232.03 831.68) rotate(44.77)"><rect x="-14.39" y="-7.3" width="28.79" height="14.6" rx="2.6"/><text x="0" y="2.6" textLength="22.19" lengthAdjust="spacingAndGlyphs">0.116</text></g>
<g transform="translate(384.7 509.7) rotate(0)"><rect x="-14.39" y="-7.3" width="28.79" height="14.6" rx="2.6"/><text x="0" y="2.6" textLength="22.19" lengthAdjust="spacingAndGlyphs">0.831</text></g>
<g transform="translate(384.7 557.05) rotate(0)"><rect x="-14.39" y="-7.3" width="28.79" height="14.6" rx="2.6"/><text x="0" y="2.6" textLength="22.19" lengthAdjust="spacingAndGlyphs">0.263</text></g>
<g transform="translate(384.7 604.4) rotate(0)"><rect x="-14.39" y="-7.3" width="28.79" height="14.6" rx="2.6"/><text x="0" y="2.6" textLength="22.19" lengthAdjust="spacingAndGlyphs">0.628</text></g>
<g transform="translate(384.7 651.75) rotate(0)"><rect x="-14.39" y="-7.3" width="28.79" height="14.6" rx="2.6"/><text x="0" y="2.6" textLength="22.19" lengthAdjust="spacingAndGlyphs">0.663</text></g>
<g transform="translate(384.7 746.45) rotate(0)"><rect x="-14.39" y="-7.3" width="28.79" height="14.6" rx="2.6"/><text x="0" y="2.6" textLength="22.19" lengthAdjust="spacingAndGlyphs">0.500</text></g>
<g transform="translate(384.7 793.8) rotate(0)"><rect x="-14.39" y="-7.3" width="28.79" height="14.6" rx="2.6"/><text x="0" y="2.6" textLength="22.19" lengthAdjust="spacingAndGlyphs">0.732</text></g>
<g transform="translate(384.7 841.15) rotate(0)"><rect x="-14.39" y="-7.3" width="28.79" height="14.6" rx="2.6"/><text x="0" y="2.6" textLength="22.19" lengthAdjust="spacingAndGlyphs">0.506</text></g>
<g transform="translate(384.7 888.5) rotate(0)"><rect x="-14.39" y="-7.3" width="28.79" height="14.6" rx="2.6"/><text x="0" y="2.6" textLength="22.19" lengthAdjust="spacingAndGlyphs">0.955</text></g>
<g transform="translate(422.86 642.28) rotate(44.79)"><rect x="-14.39" y="-7.3" width="28.79" height="14.6" rx="2.6"/><text x="0" y="2.6" textLength="22.19" lengthAdjust="spacingAndGlyphs">0.169</text></g>
<g transform="translate(422.86 656.49) rotate(36.67)"><rect x="-14.39" y="-7.3" width="28.79" height="14.6" rx="2.6"/><text x="0" y="2.6" textLength="22.19" lengthAdjust="spacingAndGlyphs">0.737</text></g>
<g transform="translate(422.86 670.69) rotate(26.4)"><rect x="-14.39" y="-7.3" width="28.79" height="14.6" rx="2.6"/><text x="0" y="2.6" textLength="22.19" lengthAdjust="spacingAndGlyphs">0.372</text></g>
<g transform="translate(422.86 684.89) rotate(13.94)"><rect x="-14.39" y="-7.3" width="28.79" height="14.6" rx="2.6"/><text x="0" y="2.6" textLength="22.19" lengthAdjust="spacingAndGlyphs">0.337</text></g>
<g transform="translate(346.54 732.25) rotate(-13.94)"><rect x="-14.39" y="-7.3" width="28.79" height="14.6" rx="2.6"/><text x="0" y="2.6" textLength="22.19" lengthAdjust="spacingAndGlyphs">0.500</text></g>
<g transform="translate(346.54 765.39) rotate(-26.4)"><rect x="-14.39" y="-7.3" width="28.79" height="14.6" rx="2.6"/><text x="0" y="2.6" textLength="22.19" lengthAdjust="spacingAndGlyphs">0.268</text></g>
<g transform="translate(346.54 798.53) rotate(-36.67)"><rect x="-14.39" y="-7.3" width="28.79" height="14.6" rx="2.6"/><text x="0" y="2.6" textLength="22.19" lengthAdjust="spacingAndGlyphs">0.494</text></g>
<g transform="translate(346.54 831.68) rotate(-44.79)"><rect x="-14.39" y="-7.3" width="28.79" height="14.6" rx="2.6"/><text x="0" y="2.6" textLength="22.19" lengthAdjust="spacingAndGlyphs">0.045</text></g>
<g transform="translate(346.54 642.28) rotate(-44.79)"><rect x="-14.39" y="-7.3" width="28.79" height="14.6" rx="2.6"/><text x="0" y="2.6" textLength="22.19" lengthAdjust="spacingAndGlyphs">0.130</text></g>
<g transform="translate(346.54 656.49) rotate(-36.67)"><rect x="-14.39" y="-7.3" width="28.79" height="14.6" rx="2.6"/><text x="0" y="2.6" textLength="22.19" lengthAdjust="spacingAndGlyphs">0.148</text></g>
<g transform="translate(346.54 670.69) rotate(-26.4)"><rect x="-14.39" y="-7.3" width="28.79" height="14.6" rx="2.6"/><text x="0" y="2.6" textLength="22.19" lengthAdjust="spacingAndGlyphs">0.139</text></g>
<g transform="translate(346.54 684.89) rotate(-13.94)"><rect x="-14.39" y="-7.3" width="28.79" height="14.6" rx="2.6"/><text x="0" y="2.6" textLength="22.19" lengthAdjust="spacingAndGlyphs">0.081</text></g>
<g transform="translate(384.7 699.1) rotate(0)"><rect x="-14.39" y="-7.3" width="28.79" height="14.6" rx="2.6"/><text x="0" y="2.6" textLength="22.19" lengthAdjust="spacingAndGlyphs">0.223</text></g>
<g transform="translate(422.86 732.25) rotate(13.94)"><rect x="-14.39" y="-7.3" width="28.79" height="14.6" rx="2.6"/><text x="0" y="2.6" textLength="22.19" lengthAdjust="spacingAndGlyphs">0.068</text></g>
<g transform="translate(422.86 765.39) rotate(26.4)"><rect x="-14.39" y="-7.3" width="28.79" height="14.6" rx="2.6"/><text x="0" y="2.6" textLength="22.19" lengthAdjust="spacingAndGlyphs">0.069</text></g>
<g transform="translate(422.86 798.53) rotate(36.67)"><rect x="-14.39" y="-7.3" width="28.79" height="14.6" rx="2.6"/><text x="0" y="2.6" textLength="22.19" lengthAdjust="spacingAndGlyphs">0.068</text></g>
<g transform="translate(422.86 831.68) rotate(44.79)"><rect x="-14.39" y="-7.3" width="28.79" height="14.6" rx="2.6"/><text x="0" y="2.6" textLength="22.19" lengthAdjust="spacingAndGlyphs">0.072</text></g>
<g transform="translate(575.4 509.7) rotate(0)"><rect x="-14.39" y="-7.3" width="28.79" height="14.6" rx="2.6"/><text x="0" y="2.6" textLength="22.19" lengthAdjust="spacingAndGlyphs">0.761</text></g>
<g transform="translate(575.4 557.05) rotate(0)"><rect x="-14.39" y="-7.3" width="28.79" height="14.6" rx="2.6"/><text x="0" y="2.6" textLength="22.19" lengthAdjust="spacingAndGlyphs">0.905</text></g>
<g transform="translate(575.4 604.4) rotate(0)"><rect x="-14.39" y="-7.3" width="28.79" height="14.6" rx="2.6"/><text x="0" y="2.6" textLength="22.19" lengthAdjust="spacingAndGlyphs">0.794</text></g>
<g transform="translate(575.4 651.75) rotate(0)"><rect x="-14.39" y="-7.3" width="28.79" height="14.6" rx="2.6"/><text x="0" y="2.6" textLength="22.19" lengthAdjust="spacingAndGlyphs">0.767</text></g>
<g transform="translate(575.4 746.45) rotate(0)"><rect x="-14.39" y="-7.3" width="28.79" height="14.6" rx="2.6"/><text x="0" y="2.6" textLength="22.19" lengthAdjust="spacingAndGlyphs">0.633</text></g>
<g transform="translate(575.4 793.8) rotate(0)"><rect x="-14.39" y="-7.3" width="28.79" height="14.6" rx="2.6"/><text x="0" y="2.6" textLength="22.19" lengthAdjust="spacingAndGlyphs">0.776</text></g>
<g transform="translate(575.4 841.15) rotate(0)"><rect x="-14.39" y="-7.3" width="28.79" height="14.6" rx="2.6"/><text x="0" y="2.6" textLength="22.19" lengthAdjust="spacingAndGlyphs">0.695</text></g>
<g transform="translate(575.4 888.5) rotate(0)"><rect x="-14.39" y="-7.3" width="28.79" height="14.6" rx="2.6"/><text x="0" y="2.6" textLength="22.19" lengthAdjust="spacingAndGlyphs">0.818</text></g>
<g transform="translate(613.52 642.28) rotate(44.82)"><rect x="-14.39" y="-7.3" width="28.79" height="14.6" rx="2.6"/><text x="0" y="2.6" textLength="22.19" lengthAdjust="spacingAndGlyphs">0.239</text></g>
<g transform="translate(613.52 656.49) rotate(36.7)"><rect x="-14.39" y="-7.3" width="28.79" height="14.6" rx="2.6"/><text x="0" y="2.6" textLength="22.19" lengthAdjust="spacingAndGlyphs">0.095</text></g>
<g transform="translate(613.52 670.69) rotate(26.42)"><rect x="-14.39" y="-7.3" width="28.79" height="14.6" rx="2.6"/><text x="0" y="2.6" textLength="22.19" lengthAdjust="spacingAndGlyphs">0.206</text></g>
<g transform="translate(613.52 684.89) rotate(13.95)"><rect x="-14.39" y="-7.3" width="28.79" height="14.6" rx="2.6"/><text x="0" y="2.6" textLength="22.19" lengthAdjust="spacingAndGlyphs">0.233</text></g>
<g transform="translate(537.28 732.25) rotate(-13.95)"><rect x="-14.39" y="-7.3" width="28.79" height="14.6" rx="2.6"/><text x="0" y="2.6" textLength="22.19" lengthAdjust="spacingAndGlyphs">0.367</text></g>
<g transform="translate(537.28 765.39) rotate(-26.42)"><rect x="-14.39" y="-7.3" width="28.79" height="14.6" rx="2.6"/><text x="0" y="2.6" textLength="22.19" lengthAdjust="spacingAndGlyphs">0.224</text></g>
<g transform="translate(537.28 798.53) rotate(-36.7)"><rect x="-14.39" y="-7.3" width="28.79" height="14.6" rx="2.6"/><text x="0" y="2.6" textLength="22.19" lengthAdjust="spacingAndGlyphs">0.305</text></g>
<g transform="translate(537.28 831.68) rotate(-44.82)"><rect x="-14.39" y="-7.3" width="28.79" height="14.6" rx="2.6"/><text x="0" y="2.6" textLength="22.19" lengthAdjust="spacingAndGlyphs">0.182</text></g>
<g transform="translate(537.28 642.28) rotate(-44.82)"><rect x="-14.39" y="-7.3" width="28.79" height="14.6" rx="2.6"/><text x="0" y="2.6" textLength="22.19" lengthAdjust="spacingAndGlyphs">0.033</text></g>
<g transform="translate(537.28 656.49) rotate(-36.7)"><rect x="-14.39" y="-7.3" width="28.79" height="14.6" rx="2.6"/><text x="0" y="2.6" textLength="22.19" lengthAdjust="spacingAndGlyphs">0.033</text></g>
<g transform="translate(537.28 670.69) rotate(-26.42)"><rect x="-14.39" y="-7.3" width="28.79" height="14.6" rx="2.6"/><text x="0" y="2.6" textLength="22.19" lengthAdjust="spacingAndGlyphs">0.032</text></g>
<g transform="translate(537.28 684.89) rotate(-13.95)"><rect x="-14.39" y="-7.3" width="28.79" height="14.6" rx="2.6"/><text x="0" y="2.6" textLength="22.19" lengthAdjust="spacingAndGlyphs">0.032</text></g>
<g transform="translate(575.4 699.1) rotate(0)"><rect x="-14.39" y="-7.3" width="28.79" height="14.6" rx="2.6"/><text x="0" y="2.6" textLength="22.19" lengthAdjust="spacingAndGlyphs">0.742</text></g>
<g transform="translate(613.52 732.25) rotate(13.95)"><rect x="-14.39" y="-7.3" width="28.79" height="14.6" rx="2.6"/><text x="0" y="2.6" textLength="22.19" lengthAdjust="spacingAndGlyphs">0.032</text></g>
<g transform="translate(613.52 765.39) rotate(26.42)"><rect x="-14.39" y="-7.3" width="28.79" height="14.6" rx="2.6"/><text x="0" y="2.6" textLength="22.19" lengthAdjust="spacingAndGlyphs">0.032</text></g>
<g transform="translate(613.52 798.53) rotate(36.7)"><rect x="-14.39" y="-7.3" width="28.79" height="14.6" rx="2.6"/><text x="0" y="2.6" textLength="22.19" lengthAdjust="spacingAndGlyphs">0.032</text></g>
<g transform="translate(613.52 831.68) rotate(44.82)"><rect x="-14.39" y="-7.3" width="28.79" height="14.6" rx="2.6"/><text x="0" y="2.6" textLength="22.19" lengthAdjust="spacingAndGlyphs">0.032</text></g>
<g transform="translate(155.67 1104.48) rotate(-44.77)"><rect x="-14.39" y="-7.3" width="28.79" height="14.6" rx="2.6"/><text x="0" y="2.6" textLength="22.19" lengthAdjust="spacingAndGlyphs">0.111</text></g>
<g transform="translate(155.67 1118.69) rotate(-36.65)"><rect x="-14.39" y="-7.3" width="28.79" height="14.6" rx="2.6"/><text x="0" y="2.6" textLength="22.19" lengthAdjust="spacingAndGlyphs">0.113</text></g>
<g transform="translate(155.67 1132.89) rotate(-26.38)"><rect x="-14.39" y="-7.3" width="28.79" height="14.6" rx="2.6"/><text x="0" y="2.6" textLength="22.19" lengthAdjust="spacingAndGlyphs">0.113</text></g>
<g transform="translate(155.67 1147.1) rotate(-13.93)"><rect x="-14.39" y="-7.3" width="28.79" height="14.6" rx="2.6"/><text x="0" y="2.6" textLength="22.19" lengthAdjust="spacingAndGlyphs">0.111</text></g>
<g transform="translate(193.85 1161.3) rotate(0)"><rect x="-14.39" y="-7.3" width="28.79" height="14.6" rx="2.6"/><text x="0" y="2.6" textLength="22.19" lengthAdjust="spacingAndGlyphs">0.112</text></g>
<g transform="translate(232.03 1194.45) rotate(13.93)"><rect x="-14.39" y="-7.3" width="28.79" height="14.6" rx="2.6"/><text x="0" y="2.6" textLength="22.19" lengthAdjust="spacingAndGlyphs">0.110</text></g>
<g transform="translate(232.03 1227.59) rotate(26.38)"><rect x="-14.39" y="-7.3" width="28.79" height="14.6" rx="2.6"/><text x="0" y="2.6" textLength="22.19" lengthAdjust="spacingAndGlyphs">0.109</text></g>
<g transform="translate(232.03 1260.74) rotate(36.65)"><rect x="-14.39" y="-7.3" width="28.79" height="14.6" rx="2.6"/><text x="0" y="2.6" textLength="22.19" lengthAdjust="spacingAndGlyphs">0.110</text></g>
<g transform="translate(232.03 1293.88) rotate(44.77)"><rect x="-14.39" y="-7.3" width="28.79" height="14.6" rx="2.6"/><text x="0" y="2.6" textLength="22.19" lengthAdjust="spacingAndGlyphs">0.111</text></g>
<g transform="translate(384.7 971.9) rotate(0)"><rect x="-14.39" y="-7.3" width="28.79" height="14.6" rx="2.6"/><text x="0" y="2.6" textLength="22.19" lengthAdjust="spacingAndGlyphs">0.909</text></g>
<g transform="translate(384.7 1019.25) rotate(0)"><rect x="-14.39" y="-7.3" width="28.79" height="14.6" rx="2.6"/><text x="0" y="2.6" textLength="22.19" lengthAdjust="spacingAndGlyphs">0.468</text></g>
<g transform="translate(384.7 1066.6) rotate(0)"><rect x="-14.39" y="-7.3" width="28.79" height="14.6" rx="2.6"/><text x="0" y="2.6" textLength="22.19" lengthAdjust="spacingAndGlyphs">0.533</text></g>
<g transform="translate(384.7 1113.95) rotate(0)"><rect x="-14.39" y="-7.3" width="28.79" height="14.6" rx="2.6"/><text x="0" y="2.6" textLength="22.19" lengthAdjust="spacingAndGlyphs">0.495</text></g>
<g transform="translate(384.7 1208.65) rotate(0)"><rect x="-14.39" y="-7.3" width="28.79" height="14.6" rx="2.6"/><text x="0" y="2.6" textLength="22.19" lengthAdjust="spacingAndGlyphs">0.456</text></g>
<g transform="translate(384.7 1256) rotate(0)"><rect x="-14.39" y="-7.3" width="28.79" height="14.6" rx="2.6"/><text x="0" y="2.6" textLength="22.19" lengthAdjust="spacingAndGlyphs">0.689</text></g>
<g transform="translate(384.7 1303.35) rotate(0)"><rect x="-14.39" y="-7.3" width="28.79" height="14.6" rx="2.6"/><text x="0" y="2.6" textLength="22.19" lengthAdjust="spacingAndGlyphs">0.530</text></g>
<g transform="translate(384.7 1350.7) rotate(0)"><rect x="-14.39" y="-7.3" width="28.79" height="14.6" rx="2.6"/><text x="0" y="2.6" textLength="22.19" lengthAdjust="spacingAndGlyphs">0.509</text></g>
<g transform="translate(422.86 1104.48) rotate(44.79)"><rect x="-14.39" y="-7.3" width="28.79" height="14.6" rx="2.6"/><text x="0" y="2.6" textLength="22.19" lengthAdjust="spacingAndGlyphs">0.091</text></g>
<g transform="translate(422.86 1118.69) rotate(36.67)"><rect x="-14.39" y="-7.3" width="28.79" height="14.6" rx="2.6"/><text x="0" y="2.6" textLength="22.19" lengthAdjust="spacingAndGlyphs">0.532</text></g>
<g transform="translate(422.86 1132.89) rotate(26.4)"><rect x="-14.39" y="-7.3" width="28.79" height="14.6" rx="2.6"/><text x="0" y="2.6" textLength="22.19" lengthAdjust="spacingAndGlyphs">0.467</text></g>
<g transform="translate(422.86 1147.1) rotate(13.94)"><rect x="-14.39" y="-7.3" width="28.79" height="14.6" rx="2.6"/><text x="0" y="2.6" textLength="22.19" lengthAdjust="spacingAndGlyphs">0.505</text></g>
<g transform="translate(346.54 1194.45) rotate(-13.94)"><rect x="-14.39" y="-7.3" width="28.79" height="14.6" rx="2.6"/><text x="0" y="2.6" textLength="22.19" lengthAdjust="spacingAndGlyphs">0.544</text></g>
<g transform="translate(346.54 1227.59) rotate(-26.4)"><rect x="-14.39" y="-7.3" width="28.79" height="14.6" rx="2.6"/><text x="0" y="2.6" textLength="22.19" lengthAdjust="spacingAndGlyphs">0.311</text></g>
<g transform="translate(346.54 1260.74) rotate(-36.67)"><rect x="-14.39" y="-7.3" width="28.79" height="14.6" rx="2.6"/><text x="0" y="2.6" textLength="22.19" lengthAdjust="spacingAndGlyphs">0.470</text></g>
<g transform="translate(346.54 1293.88) rotate(-44.79)"><rect x="-14.39" y="-7.3" width="28.79" height="14.6" rx="2.6"/><text x="0" y="2.6" textLength="22.19" lengthAdjust="spacingAndGlyphs">0.491</text></g>
<g transform="translate(346.54 1104.48) rotate(-44.79)"><rect x="-14.39" y="-7.3" width="28.79" height="14.6" rx="2.6"/><text x="0" y="2.6" textLength="22.19" lengthAdjust="spacingAndGlyphs">0.002</text></g>
<g transform="translate(346.54 1118.69) rotate(-36.67)"><rect x="-14.39" y="-7.3" width="28.79" height="14.6" rx="2.6"/><text x="0" y="2.6" textLength="22.19" lengthAdjust="spacingAndGlyphs">0.002</text></g>
<g transform="translate(346.54 1132.89) rotate(-26.4)"><rect x="-14.39" y="-7.3" width="28.79" height="14.6" rx="2.6"/><text x="0" y="2.6" textLength="22.19" lengthAdjust="spacingAndGlyphs">0.003</text></g>
<g transform="translate(346.54 1147.1) rotate(-13.94)"><rect x="-14.39" y="-7.3" width="28.79" height="14.6" rx="2.6"/><text x="0" y="2.6" textLength="22.19" lengthAdjust="spacingAndGlyphs">0.002</text></g>
<g transform="translate(384.7 1161.3) rotate(0)"><rect x="-14.39" y="-7.3" width="28.79" height="14.6" rx="2.6"/><text x="0" y="2.6" textLength="22.19" lengthAdjust="spacingAndGlyphs">0.987</text></g>
<g transform="translate(422.86 1227.59) rotate(26.4)"><rect x="-14.39" y="-7.3" width="28.79" height="14.6" rx="2.6"/><text x="0" y="2.6" textLength="22.19" lengthAdjust="spacingAndGlyphs">0.001</text></g>
<g transform="translate(422.86 1293.88) rotate(44.79)"><rect x="-14.39" y="-7.3" width="28.79" height="14.6" rx="2.6"/><text x="0" y="2.6" textLength="22.19" lengthAdjust="spacingAndGlyphs">0.001</text></g>
<g transform="translate(575.4 971.9) rotate(0)"><rect x="-14.39" y="-7.3" width="28.79" height="14.6" rx="2.6"/><text x="0" y="2.6" textLength="22.19" lengthAdjust="spacingAndGlyphs">0.863</text></g>
<g transform="translate(575.4 1019.25) rotate(0)"><rect x="-14.39" y="-7.3" width="28.79" height="14.6" rx="2.6"/><text x="0" y="2.6" textLength="22.19" lengthAdjust="spacingAndGlyphs">0.750</text></g>
<g transform="translate(575.4 1066.6) rotate(0)"><rect x="-14.39" y="-7.3" width="28.79" height="14.6" rx="2.6"/><text x="0" y="2.6" textLength="22.19" lengthAdjust="spacingAndGlyphs">0.644</text></g>
<g transform="translate(575.4 1113.95) rotate(0)"><rect x="-14.39" y="-7.3" width="28.79" height="14.6" rx="2.6"/><text x="0" y="2.6" textLength="22.19" lengthAdjust="spacingAndGlyphs">0.707</text></g>
<g transform="translate(575.4 1208.65) rotate(0)"><rect x="-14.39" y="-7.3" width="28.79" height="14.6" rx="2.6"/><text x="0" y="2.6" textLength="22.19" lengthAdjust="spacingAndGlyphs">0.623</text></g>
<g transform="translate(575.4 1256) rotate(0)"><rect x="-14.39" y="-7.3" width="28.79" height="14.6" rx="2.6"/><text x="0" y="2.6" textLength="22.19" lengthAdjust="spacingAndGlyphs">0.845</text></g>
<g transform="translate(575.4 1303.35) rotate(0)"><rect x="-14.39" y="-7.3" width="28.79" height="14.6" rx="2.6"/><text x="0" y="2.6" textLength="22.19" lengthAdjust="spacingAndGlyphs">0.504</text></g>
<g transform="translate(575.4 1350.7) rotate(0)"><rect x="-14.39" y="-7.3" width="28.79" height="14.6" rx="2.6"/><text x="0" y="2.6" textLength="22.19" lengthAdjust="spacingAndGlyphs">0.682</text></g>
<g transform="translate(613.52 1104.48) rotate(44.82)"><rect x="-14.39" y="-7.3" width="28.79" height="14.6" rx="2.6"/><text x="0" y="2.6" textLength="22.19" lengthAdjust="spacingAndGlyphs">0.137</text></g>
<g transform="translate(613.52 1118.69) rotate(36.7)"><rect x="-14.39" y="-7.3" width="28.79" height="14.6" rx="2.6"/><text x="0" y="2.6" textLength="22.19" lengthAdjust="spacingAndGlyphs">0.250</text></g>
<g transform="translate(613.52 1132.89) rotate(26.42)"><rect x="-14.39" y="-7.3" width="28.79" height="14.6" rx="2.6"/><text x="0" y="2.6" textLength="22.19" lengthAdjust="spacingAndGlyphs">0.356</text></g>
<g transform="translate(613.52 1147.1) rotate(13.95)"><rect x="-14.39" y="-7.3" width="28.79" height="14.6" rx="2.6"/><text x="0" y="2.6" textLength="22.19" lengthAdjust="spacingAndGlyphs">0.293</text></g>
<g transform="translate(537.28 1194.45) rotate(-13.95)"><rect x="-14.39" y="-7.3" width="28.79" height="14.6" rx="2.6"/><text x="0" y="2.6" textLength="22.19" lengthAdjust="spacingAndGlyphs">0.377</text></g>
<g transform="translate(537.28 1227.59) rotate(-26.42)"><rect x="-14.39" y="-7.3" width="28.79" height="14.6" rx="2.6"/><text x="0" y="2.6" textLength="22.19" lengthAdjust="spacingAndGlyphs">0.155</text></g>
<g transform="translate(537.28 1260.74) rotate(-36.7)"><rect x="-14.39" y="-7.3" width="28.79" height="14.6" rx="2.6"/><text x="0" y="2.6" textLength="22.19" lengthAdjust="spacingAndGlyphs">0.496</text></g>
<g transform="translate(537.28 1293.88) rotate(-44.82)"><rect x="-14.39" y="-7.3" width="28.79" height="14.6" rx="2.6"/><text x="0" y="2.6" textLength="22.19" lengthAdjust="spacingAndGlyphs">0.318</text></g>
<g transform="translate(575.4 1161.3) rotate(0)"><rect x="-14.39" y="-7.3" width="28.79" height="14.6" rx="2.6"/><text x="0" y="2.6" textLength="22.19" lengthAdjust="spacingAndGlyphs">0.999</text></g></g>
<g class="n"><circle cx="98.4" cy="226.1" r="12" fill="#8E97AC"/>
<polygon points="300.48,41.33 293.93,47.88 284.67,47.88 278.12,41.33 278.12,32.07 284.67,25.52 293.93,25.52 300.48,32.07" fill="#E8E1CC"/>
<polygon points="300.48,88.68 293.93,95.23 284.67,95.23 278.12,88.68 278.12,79.42 284.67,72.87 293.93,72.87 300.48,79.42" fill="#CDD1E3"/>
<polygon points="300.48,136.03 293.93,142.58 284.67,142.58 278.12,136.03 278.12,126.77 284.67,120.22 293.93,120.22 300.48,126.77" fill="#E3D5D8"/>
<polygon points="289.3,166.75 299.69,172.75 299.69,184.75 289.3,190.75 278.91,184.75 278.91,172.75" fill="#F7F4D0"/>
<circle cx="289.3" cy="226.1" r="12" fill="#8E97AC"/>
<polygon points="289.3,261.45 299.69,267.45 299.69,279.45 289.3,285.45 278.91,279.45 278.91,267.45" fill="#F1F1EA"/>
<polygon points="289.3,308.8 299.69,314.8 299.69,326.8 289.3,332.8 278.91,326.8 278.91,314.8" fill="#E3A1A8"/>
<polygon points="289.3,356.15 299.69,362.15 299.69,374.15 289.3,380.15 278.91,374.15 278.91,362.15" fill="#DCE3F1"/>
<polygon points="289.3,403.5 299.69,409.5 299.69,421.5 289.3,427.5 278.91,421.5 278.91,409.5" fill="#E8C57A"/>
<polygon points="491.28,41.33 484.73,47.88 475.47,47.88 468.92,41.33 468.92,32.07 475.47,25.52 484.73,25.52 491.28,32.07" fill="#E8E1CC"/>
<polygon points="491.28,88.68 484.73,95.23 475.47,95.23 468.92,88.68 468.92,79.42 475.47,72.87 484.73,72.87 491.28,79.42" fill="#CDD1E3"/>
<polygon points="491.28,136.03 484.73,142.58 475.47,142.58 468.92,136.03 468.92,126.77 475.47,120.22 484.73,120.22 491.28,126.77" fill="#E3D5D8"/>
<polygon points="480.1,166.75 490.49,172.75 490.49,184.75 480.1,190.75 469.71,184.75 469.71,172.75" fill="#F7F4D0"/>
<circle cx="480.1" cy="226.1" r="12" fill="#8E97AC"/>
<polygon points="480.1,261.45 490.49,267.45 490.49,279.45 480.1,285.45 469.71,279.45 469.71,267.45" fill="#F1F1EA"/>
<polygon points="480.1,308.8 490.49,314.8 490.49,326.8 480.1,332.8 469.71,326.8 469.71,314.8" fill="#E3A1A8"/>
<polygon points="480.1,356.15 490.49,362.15 490.49,374.15 480.1,380.15 469.71,374.15 469.71,362.15" fill="#DCE3F1"/>
<polygon points="480.1,403.5 490.49,409.5 490.49,421.5 480.1,427.5 469.71,421.5 469.71,409.5" fill="#E8C57A"/>
<polygon points="681.88,41.33 675.33,47.88 666.07,47.88 659.52,41.33 659.52,32.07 666.07,25.52 675.33,25.52 681.88,32.07" fill="#E8E1CC"/>
<polygon points="681.88,88.68 675.33,95.23 666.07,95.23 659.52,88.68 659.52,79.42 666.07,72.87 675.33,72.87 681.88,79.42" fill="#CDD1E3"/>
<polygon points="681.88,136.03 675.33,142.58 666.07,142.58 659.52,136.03 659.52,126.77 666.07,120.22 675.33,120.22 681.88,126.77" fill="#E3D5D8"/>
<polygon points="670.7,166.75 681.09,172.75 681.09,184.75 670.7,190.75 660.31,184.75 660.31,172.75" fill="#F7F4D0"/>
<circle cx="670.7" cy="226.1" r="12" fill="#8E97AC"/>
<polygon points="670.7,261.45 681.09,267.45 681.09,279.45 670.7,285.45 660.31,279.45 660.31,267.45" fill="#F1F1EA"/>
<polygon points="670.7,308.8 681.09,314.8 681.09,326.8 670.7,332.8 660.31,326.8 660.31,314.8" fill="#E3A1A8"/>
<polygon points="670.7,356.15 681.09,362.15 681.09,374.15 670.7,380.15 660.31,374.15 660.31,362.15" fill="#DCE3F1"/>
<polygon points="670.7,403.5 681.09,409.5 681.09,421.5 670.7,427.5 660.31,421.5 660.31,409.5" fill="#E8C57A"/>
<circle cx="98.4" cy="699.1" r="12" fill="#8E97AC"/>
<polygon points="300.48,514.33 293.93,520.88 284.67,520.88 278.12,514.33 278.12,505.07 284.67,498.52 293.93,498.52 300.48,505.07" fill="#E8E1CC"/>
<polygon points="300.48,561.68 293.93,568.23 284.67,568.23 278.12,561.68 278.12,552.42 284.67,545.87 293.93,545.87 300.48,552.42" fill="#CDD1E3"/>
<polygon points="300.48,609.03 293.93,615.58 284.67,615.58 278.12,609.03 278.12,599.77 284.67,593.22 293.93,593.22 300.48,599.77" fill="#E3D5D8"/>
<polygon points="289.3,639.75 299.69,645.75 299.69,657.75 289.3,663.75 278.91,657.75 278.91,645.75" fill="#F7F4D0"/>
<circle cx="289.3" cy="699.1" r="12" fill="#8E97AC"/>
<polygon points="289.3,734.45 299.69,740.45 299.69,752.45 289.3,758.45 278.91,752.45 278.91,740.45" fill="#F1F1EA"/>
<polygon points="289.3,781.8 299.69,787.8 299.69,799.8 289.3,805.8 278.91,799.8 278.91,787.8" fill="#E3A1A8"/>
<polygon points="289.3,829.15 299.69,835.15 299.69,847.15 289.3,853.15 278.91,847.15 278.91,835.15" fill="#DCE3F1"/>
<polygon points="289.3,876.5 299.69,882.5 299.69,894.5 289.3,900.5 278.91,894.5 278.91,882.5" fill="#E8C57A"/>
<polygon points="491.28,514.33 484.73,520.88 475.47,520.88 468.92,514.33 468.92,505.07 475.47,498.52 484.73,498.52 491.28,505.07" fill="#E8E1CC"/>
<polygon points="491.28,561.68 484.73,568.23 475.47,568.23 468.92,561.68 468.92,552.42 475.47,545.87 484.73,545.87 491.28,552.42" fill="#CDD1E3"/>
<polygon points="491.28,609.03 484.73,615.58 475.47,615.58 468.92,609.03 468.92,599.77 475.47,593.22 484.73,593.22 491.28,599.77" fill="#E3D5D8"/>
<polygon points="480.1,639.75 490.49,645.75 490.49,657.75 480.1,663.75 469.71,657.75 469.71,645.75" fill="#F7F4D0"/>
<circle cx="480.1" cy="699.1" r="12" fill="#8E97AC"/>
<polygon points="480.1,734.45 490.49,740.45 490.49,752.45 480.1,758.45 469.71,752.45 469.71,740.45" fill="#F1F1EA"/>
<polygon points="480.1,781.8 490.49,787.8 490.49,799.8 480.1,805.8 469.71,799.8 469.71,787.8" fill="#E3A1A8"/>
<polygon points="480.1,829.15 490.49,835.15 490.49,847.15 480.1,853.15 469.71,847.15 469.71,835.15" fill="#DCE3F1"/>
<polygon points="480.1,876.5 490.49,882.5 490.49,894.5 480.1,900.5 469.71,894.5 469.71,882.5" fill="#E8C57A"/>
<polygon points="681.88,514.33 675.33,520.88 666.07,520.88 659.52,514.33 659.52,505.07 666.07,498.52 675.33,498.52 681.88,505.07" fill="#E8E1CC"/>
<polygon points="681.88,561.68 675.33,568.23 666.07,568.23 659.52,561.68 659.52,552.42 666.07,545.87 675.33,545.87 681.88,552.42" fill="#CDD1E3"/>
<polygon points="681.88,609.03 675.33,615.58 666.07,615.58 659.52,609.03 659.52,599.77 666.07,593.22 675.33,593.22 681.88,599.77" fill="#E3D5D8"/>
<polygon points="670.7,639.75 681.09,645.75 681.09,657.75 670.7,663.75 660.31,657.75 660.31,645.75" fill="#F7F4D0"/>
<circle cx="670.7" cy="699.1" r="12" fill="#8E97AC"/>
<polygon points="670.7,734.45 681.09,740.45 681.09,752.45 670.7,758.45 660.31,752.45 660.31,740.45" fill="#F1F1EA"/>
<polygon points="670.7,781.8 681.09,787.8 681.09,799.8 670.7,805.8 660.31,799.8 660.31,787.8" fill="#E3A1A8"/>
<polygon points="670.7,829.15 681.09,835.15 681.09,847.15 670.7,853.15 660.31,847.15 660.31,835.15" fill="#DCE3F1"/>
<polygon points="670.7,876.5 681.09,882.5 681.09,894.5 670.7,900.5 660.31,894.5 660.31,882.5" fill="#E8C57A"/>
<circle cx="98.4" cy="1161.3" r="12" fill="#8E97AC"/>
<polygon points="300.48,976.53 293.93,983.08 284.67,983.08 278.12,976.53 278.12,967.27 284.67,960.72 293.93,960.72 300.48,967.27" fill="#E8E1CC"/>
<polygon points="300.48,1023.88 293.93,1030.43 284.67,1030.43 278.12,1023.88 278.12,1014.62 284.67,1008.07 293.93,1008.07 300.48,1014.62" fill="#CDD1E3"/>
<polygon points="300.48,1071.23 293.93,1077.78 284.67,1077.78 278.12,1071.23 278.12,1061.97 284.67,1055.42 293.93,1055.42 300.48,1061.97" fill="#E3D5D8"/>
<polygon points="289.3,1101.95 299.69,1107.95 299.69,1119.95 289.3,1125.95 278.91,1119.95 278.91,1107.95" fill="#F7F4D0"/>
<circle cx="289.3" cy="1161.3" r="12" fill="#8E97AC"/>
<polygon points="289.3,1196.65 299.69,1202.65 299.69,1214.65 289.3,1220.65 278.91,1214.65 278.91,1202.65" fill="#F1F1EA"/>
<polygon points="289.3,1244 299.69,1250 299.69,1262 289.3,1268 278.91,1262 278.91,1250" fill="#E3A1A8"/>
<polygon points="289.3,1291.35 299.69,1297.35 299.69,1309.35 289.3,1315.35 278.91,1309.35 278.91,1297.35" fill="#DCE3F1"/>
<polygon points="289.3,1338.7 299.69,1344.7 299.69,1356.7 289.3,1362.7 278.91,1356.7 278.91,1344.7" fill="#E8C57A"/>
<polygon points="491.28,976.53 484.73,983.08 475.47,983.08 468.92,976.53 468.92,967.27 475.47,960.72 484.73,960.72 491.28,967.27" fill="#E8E1CC"/>
<polygon points="491.28,1023.88 484.73,1030.43 475.47,1030.43 468.92,1023.88 468.92,1014.62 475.47,1008.07 484.73,1008.07 491.28,1014.62" fill="#CDD1E3"/>
<polygon points="491.28,1071.23 484.73,1077.78 475.47,1077.78 468.92,1071.23 468.92,1061.97 475.47,1055.42 484.73,1055.42 491.28,1061.97" fill="#E3D5D8"/>
<polygon points="480.1,1101.95 490.49,1107.95 490.49,1119.95 480.1,1125.95 469.71,1119.95 469.71,1107.95" fill="#F7F4D0"/>
<circle cx="480.1" cy="1161.3" r="12" fill="#8E97AC"/>
<polygon points="480.1,1196.65 490.49,1202.65 490.49,1214.65 480.1,1220.65 469.71,1214.65 469.71,1202.65" fill="#F1F1EA"/>
<polygon points="480.1,1244 490.49,1250 490.49,1262 480.1,1268 469.71,1262 469.71,1250" fill="#E3A1A8"/>
<polygon points="480.1,1291.35 490.49,1297.35 490.49,1309.35 480.1,1315.35 469.71,1309.35 469.71,1297.35" fill="#DCE3F1"/>
<polygon points="480.1,1338.7 490.49,1344.7 490.49,1356.7 480.1,1362.7 469.71,1356.7 469.71,1344.7" fill="#E8C57A"/>
<polygon points="681.88,976.53 675.33,983.08 666.07,983.08 659.52,976.53 659.52,967.27 666.07,960.72 675.33,960.72 681.88,967.27" fill="#E8E1CC"/>
<polygon points="681.88,1023.88 675.33,1030.43 666.07,1030.43 659.52,1023.88 659.52,1014.62 666.07,1008.07 675.33,1008.07 681.88,1014.62" fill="#CDD1E3"/>
<polygon points="681.88,1071.23 675.33,1077.78 666.07,1077.78 659.52,1071.23 659.52,1061.97 666.07,1055.42 675.33,1055.42 681.88,1061.97" fill="#E3D5D8"/>
<polygon points="670.7,1101.95 681.09,1107.95 681.09,1119.95 670.7,1125.95 660.31,1119.95 660.31,1107.95" fill="#F7F4D0"/>
<circle cx="670.7" cy="1161.3" r="12" fill="#8E97AC"/>
<polygon points="670.7,1196.65 681.09,1202.65 681.09,1214.65 670.7,1220.65 660.31,1214.65 660.31,1202.65" fill="#F1F1EA"/>
<polygon points="670.7,1244 681.09,1250 681.09,1262 670.7,1268 660.31,1262 660.31,1250" fill="#E3A1A8"/>
<polygon points="670.7,1291.35 681.09,1297.35 681.09,1309.35 670.7,1315.35 660.31,1309.35 660.31,1297.35" fill="#DCE3F1"/>
<polygon points="670.7,1338.7 681.09,1344.7 681.09,1356.7 670.7,1362.7 660.31,1356.7 660.31,1344.7" fill="#E8C57A"/></g>
<g class="m"><text class="tag" transform="matrix(0.6734 0 0 0.9587 1.423 21.517)">(</text>
<text class="tag" transform="matrix(0.7436 0 0 0.8938 10.507 22.033)">a</text>
<text class="tag" transform="matrix(0.6594 0 0 0.9587 25.543 21.517)">)</text>
<rect class="lg" x="43.8" y="2.6" width="128.2" height="143.1" rx="2"/>
<polygon points="62.16,13.02 59.72,15.46 56.28,15.46 53.84,13.02 53.84,9.58 56.28,7.14 59.72,7.14 62.16,9.58" fill="#E8E1CC"/>
<text class="lt" x="76.7" y="15" textLength="33.89" lengthAdjust="spacingAndGlyphs">ACUTE</text>
<polygon points="62.16,28.57 59.72,31.01 56.28,31.01 53.84,28.57 53.84,25.13 56.28,22.69 59.72,22.69 62.16,25.13" fill="#CDD1E3"/>
<text class="lt" x="76.7" y="30.1" textLength="53.59" lengthAdjust="spacingAndGlyphs">INTENSIVE</text>
<polygon points="62.16,44.12 59.72,46.56 56.28,46.56 53.84,44.12 53.84,40.68 56.28,38.24 59.72,38.24 62.16,40.68" fill="#E3D5D8"/>
<text class="lt" x="76.7" y="45.4" textLength="75" lengthAdjust="spacingAndGlyphs">INTERMEDIATE</text>
<polygon points="58,53.25 62.07,55.6 62.07,60.3 58,62.65 53.93,60.3 53.93,55.6" fill="#F7F4D0"/>
<text class="lt" x="76.7" y="61" textLength="34.93" lengthAdjust="spacingAndGlyphs">NURSE</text>
<circle cx="58" cy="73.5" r="4.85" fill="#8E97AC"/>
<text class="lt" x="76.7" y="77.2" textLength="51.73" lengthAdjust="spacingAndGlyphs">encounter</text>
<polygon points="58,84.35 62.07,86.7 62.07,91.4 58,93.75 53.93,91.4 53.93,86.7" fill="#F1F1EA"/>
<text class="lt" x="76.7" y="92.2" textLength="89.46" lengthAdjust="spacingAndGlyphs">OTHER CLINICIAN</text>
<polygon points="58,99.9 62.07,102.25 62.07,106.95 58,109.3 53.93,106.95 53.93,102.25" fill="#E3A1A8"/>
<text class="lt" x="76.7" y="108.1" textLength="41.73" lengthAdjust="spacingAndGlyphs">OTHERS</text>
<polygon points="58,115.45 62.07,117.8 62.07,122.5 58,124.85 53.93,122.5 53.93,117.8" fill="#DCE3F1"/>
<text class="lt" x="76.7" y="123.7" textLength="50.79" lengthAdjust="spacingAndGlyphs">SURGEON</text>
<polygon points="58,131 62.07,133.35 62.07,138.05 58,140.4 53.93,138.05 53.93,133.35" fill="#E8C57A"/>
<text class="lt" x="76.7" y="139" textLength="62.54" lengthAdjust="spacingAndGlyphs">TECHNICIAN</text>
<rect class="lg" x="48.6" y="330.2" width="138.6" height="114" rx="0.8"/>
<line class="pl" x1="61.8" y1="343.1" x2="136.8" y2="343.1"/>
<circle cx="61.8" cy="343.1" r="7.7" fill="#8E97AC"/>
<polygon points="93.92,346.01 89.81,350.12 83.99,350.12 79.88,346.01 79.88,340.19 83.99,336.08 89.81,336.08 93.92,340.19" fill="#E8E1CC"/>
<polygon points="118.82,346.01 114.71,350.12 108.89,350.12 104.78,346.01 104.78,340.19 108.89,336.08 114.71,336.08 118.82,340.19" fill="#E8E1CC"/>
<polygon points="143.82,346.01 139.71,350.12 133.89,350.12 129.78,346.01 129.78,340.19 133.89,336.08 139.71,336.08 143.82,340.19" fill="#E8E1CC"/>
<text class="pv" x="150.1" y="346.5" textLength="28.34" lengthAdjust="spacingAndGlyphs">0.172</text>
<line class="pl" x1="61.8" y1="364.55" x2="136.8" y2="364.55"/>
<circle cx="61.8" cy="364.55" r="7.7" fill="#8E97AC"/>
<polygon points="86.9,356.95 93.48,360.75 93.48,368.35 86.9,372.15 80.32,368.35 80.32,360.75" fill="#DCE3F1"/>
<polygon points="111.8,356.95 118.38,360.75 118.38,368.35 111.8,372.15 105.22,368.35 105.22,360.75" fill="#DCE3F1"/>
<polygon points="136.8,356.95 143.38,360.75 143.38,368.35 136.8,372.15 130.22,368.35 130.22,360.75" fill="#DCE3F1"/>
<text class="pv" x="150.1" y="367.95" textLength="28.34" lengthAdjust="spacingAndGlyphs">0.062</text>
<line class="pl" x1="61.8" y1="386" x2="136.8" y2="386"/>
<circle cx="61.8" cy="386" r="7.7" fill="#8E97AC"/>
<polygon points="86.9,378.4 93.48,382.2 93.48,389.8 86.9,393.6 80.32,389.8 80.32,382.2" fill="#E8C57A"/>
<polygon points="111.8,378.4 118.38,382.2 118.38,389.8 111.8,393.6 105.22,389.8 105.22,382.2" fill="#E8C57A"/>
<polygon points="136.8,378.4 143.38,382.2 143.38,389.8 136.8,393.6 130.22,389.8 130.22,382.2" fill="#E8C57A"/>
<text class="pv" x="150.1" y="389.4" textLength="28.34" lengthAdjust="spacingAndGlyphs">0.047</text>
<line class="pl" x1="61.8" y1="407.45" x2="136.8" y2="407.45"/>
<circle cx="61.8" cy="407.45" r="7.7" fill="#8E97AC"/>
<polygon points="93.92,410.36 89.81,414.47 83.99,414.47 79.88,410.36 79.88,404.54 83.99,400.43 89.81,400.43 93.92,404.54" fill="#E8E1CC"/>
<polygon points="118.82,410.36 114.71,414.47 108.89,414.47 104.78,410.36 104.78,404.54 108.89,400.43 114.71,400.43 118.82,404.54" fill="#E8E1CC"/>
<circle cx="136.8" cy="407.45" r="7.7" fill="#8E97AC"/>
<text class="pv" x="150.1" y="410.85" textLength="28.34" lengthAdjust="spacingAndGlyphs">0.041</text>
<line class="pl" x1="61.8" y1="428.9" x2="136.8" y2="428.9"/>
<circle cx="61.8" cy="428.9" r="7.7" fill="#8E97AC"/>
<polygon points="86.9,421.3 93.48,425.1 93.48,432.7 86.9,436.5 80.32,432.7 80.32,425.1" fill="#F7F4D0"/>
<polygon points="111.8,421.3 118.38,425.1 118.38,432.7 111.8,436.5 105.22,432.7 105.22,425.1" fill="#F7F4D0"/>
<polygon points="136.8,421.3 143.38,425.1 143.38,432.7 136.8,436.5 130.22,432.7 130.22,425.1" fill="#F7F4D0"/>
<text class="pv" x="150.1" y="432.3" textLength="28.34" lengthAdjust="spacingAndGlyphs">0.038</text>
<text class="tag" transform="matrix(0.7015 0 0 0.9548 0.276 489.040)">(</text>
<text class="tag" transform="matrix(0.9259 0 0 0.9436 9.725 489.121)">b</text>
<text class="tag" transform="matrix(0.7015 0 0 0.9548 25.536 489.040)">)</text>
<rect class="lg" x="43.8" y="475.6" width="128.2" height="143.1" rx="2"/>
<polygon points="62.16,486.02 59.72,488.46 56.28,488.46 53.84,486.02 53.84,482.58 56.28,480.14 59.72,480.14 62.16,482.58" fill="#E8E1CC"/>
<text class="lt" x="76.7" y="488" textLength="33.89" lengthAdjust="spacingAndGlyphs">ACUTE</text>
<polygon points="62.16,501.57 59.72,504.01 56.28,504.01 53.84,501.57 53.84,498.13 56.28,495.69 59.72,495.69 62.16,498.13" fill="#CDD1E3"/>
<text class="lt" x="76.7" y="503.1" textLength="53.59" lengthAdjust="spacingAndGlyphs">INTENSIVE</text>
<polygon points="62.16,517.12 59.72,519.56 56.28,519.56 53.84,517.12 53.84,513.68 56.28,511.24 59.72,511.24 62.16,513.68" fill="#E3D5D8"/>
<text class="lt" x="76.7" y="518.4" textLength="75" lengthAdjust="spacingAndGlyphs">INTERMEDIATE</text>
<polygon points="58,526.25 62.07,528.6 62.07,533.3 58,535.65 53.93,533.3 53.93,528.6" fill="#F7F4D0"/>
<text class="lt" x="76.7" y="534" textLength="34.93" lengthAdjust="spacingAndGlyphs">NURSE</text>
<circle cx="58" cy="546.5" r="4.85" fill="#8E97AC"/>
<text class="lt" x="76.7" y="550.2" textLength="51.73" lengthAdjust="spacingAndGlyphs">encounter</text>
<polygon points="58,557.35 62.07,559.7 62.07,564.4 58,566.75 53.93,564.4 53.93,559.7" fill="#F1F1EA"/>
<text class="lt" x="76.7" y="565.2" textLength="89.46" lengthAdjust="spacingAndGlyphs">OTHER CLINICIAN</text>
<polygon points="58,572.9 62.07,575.25 62.07,579.95 58,582.3 53.93,579.95 53.93,575.25" fill="#E3A1A8"/>
<text class="lt" x="76.7" y="581.1" textLength="41.73" lengthAdjust="spacingAndGlyphs">OTHERS</text>
<polygon points="58,588.45 62.07,590.8 62.07,595.5 58,597.85 53.93,595.5 53.93,590.8" fill="#DCE3F1"/>
<text class="lt" x="76.7" y="596.7" textLength="50.79" lengthAdjust="spacingAndGlyphs">SURGEON</text>
<polygon points="58,604 62.07,606.35 62.07,611.05 58,613.4 53.93,611.05 53.93,606.35" fill="#E8C57A"/>
<text class="lt" x="76.7" y="612" textLength="62.54" lengthAdjust="spacingAndGlyphs">TECHNICIAN</text>
<rect class="lg" x="48.6" y="803.2" width="138.6" height="114" rx="0.8"/>
<line class="pl" x1="61.8" y1="816.1" x2="136.8" y2="816.1"/>
<circle cx="61.8" cy="816.1" r="7.7" fill="#8E97AC"/>
<polygon points="86.9,808.5 93.48,812.3 93.48,819.9 86.9,823.7 80.32,819.9 80.32,812.3" fill="#E8C57A"/>
<polygon points="111.8,808.5 118.38,812.3 118.38,819.9 111.8,823.7 105.22,819.9 105.22,812.3" fill="#E8C57A"/>
<polygon points="136.8,808.5 143.38,812.3 143.38,819.9 136.8,823.7 130.22,819.9 130.22,812.3" fill="#E8C57A"/>
<text class="pv" x="150.1" y="819.5" textLength="28.34" lengthAdjust="spacingAndGlyphs">0.090</text>
<line class="pl" x1="61.8" y1="837.55" x2="136.8" y2="837.55"/>
<circle cx="61.8" cy="837.55" r="7.7" fill="#8E97AC"/>
<polygon points="93.92,840.46 89.81,844.57 83.99,844.57 79.88,840.46 79.88,834.64 83.99,830.53 89.81,830.53 93.92,834.64" fill="#E8E1CC"/>
<polygon points="118.82,840.46 114.71,844.57 108.89,844.57 104.78,840.46 104.78,834.64 108.89,830.53 114.71,830.53 118.82,834.64" fill="#E8E1CC"/>
<polygon points="143.82,840.46 139.71,844.57 133.89,844.57 129.78,840.46 129.78,834.64 133.89,830.53 139.71,830.53 143.82,834.64" fill="#E8E1CC"/>
<text class="pv" x="150.1" y="840.95" textLength="28.34" lengthAdjust="spacingAndGlyphs">0.069</text>
<line class="pl" x1="61.8" y1="859" x2="136.8" y2="859"/>
<circle cx="61.8" cy="859" r="7.7" fill="#8E97AC"/>
<polygon points="93.92,861.91 89.81,866.02 83.99,866.02 79.88,861.91 79.88,856.09 83.99,851.98 89.81,851.98 93.92,856.09" fill="#CDD1E3"/>
<circle cx="111.8" cy="859" r="7.7" fill="#8E97AC"/>
<circle cx="136.8" cy="859" r="7.7" fill="#8E97AC"/>
<text class="pv" x="150.1" y="862.4" textLength="28.34" lengthAdjust="spacingAndGlyphs">0.068</text>
<line class="pl" x1="61.8" y1="880.45" x2="136.8" y2="880.45"/>
<circle cx="61.8" cy="880.45" r="7.7" fill="#8E97AC"/>
<polygon points="86.9,872.85 93.48,876.65 93.48,884.25 86.9,888.05 80.32,884.25 80.32,876.65" fill="#E3A1A8"/>
<polygon points="111.8,872.85 118.38,876.65 118.38,884.25 111.8,888.05 105.22,884.25 105.22,876.65" fill="#E3A1A8"/>
<polygon points="136.8,872.85 143.38,876.65 143.38,884.25 136.8,888.05 130.22,884.25 130.22,876.65" fill="#E3A1A8"/>
<text class="pv" x="150.1" y="883.85" textLength="28.34" lengthAdjust="spacingAndGlyphs">0.062</text>
<line class="pl" x1="61.8" y1="901.9" x2="136.8" y2="901.9"/>
<circle cx="61.8" cy="901.9" r="7.7" fill="#8E97AC"/>
<polygon points="93.92,904.81 89.81,908.92 83.99,908.92 79.88,904.81 79.88,898.99 83.99,894.88 89.81,894.88 93.92,898.99" fill="#E3D5D8"/>
<polygon points="118.82,904.81 114.71,908.92 108.89,908.92 104.78,904.81 104.78,898.99 108.89,894.88 114.71,894.88 118.82,898.99" fill="#E3D5D8"/>
<polygon points="143.82,904.81 139.71,908.92 133.89,908.92 129.78,904.81 129.78,898.99 133.89,894.88 139.71,894.88 143.82,898.99" fill="#E3D5D8"/>
<text class="pv" x="150.1" y="905.3" textLength="28.34" lengthAdjust="spacingAndGlyphs">0.058</text>
<text class="tag" transform="matrix(0.6313 0 0 0.9786 1.793 956.607)">(</text>
<text class="tag" transform="matrix(0.8078 0 0 0.8938 10.434 956.833)">c</text>
<text class="tag" transform="matrix(0.5892 0 0 0.9786 24.355 956.607)">)</text>
<rect class="lg" x="43.8" y="937.8" width="128.2" height="143.1" rx="2"/>
<polygon points="62.16,948.22 59.72,950.66 56.28,950.66 53.84,948.22 53.84,944.78 56.28,942.34 59.72,942.34 62.16,944.78" fill="#E8E1CC"/>
<text class="lt" x="76.7" y="950.2" textLength="33.89" lengthAdjust="spacingAndGlyphs">ACUTE</text>
<polygon points="62.16,963.77 59.72,966.21 56.28,966.21 53.84,963.77 53.84,960.33 56.28,957.89 59.72,957.89 62.16,960.33" fill="#CDD1E3"/>
<text class="lt" x="76.7" y="965.3" textLength="53.59" lengthAdjust="spacingAndGlyphs">INTENSIVE</text>
<polygon points="62.16,979.32 59.72,981.76 56.28,981.76 53.84,979.32 53.84,975.88 56.28,973.44 59.72,973.44 62.16,975.88" fill="#E3D5D8"/>
<text class="lt" x="76.7" y="980.6" textLength="75" lengthAdjust="spacingAndGlyphs">INTERMEDIATE</text>
<polygon points="58,988.45 62.07,990.8 62.07,995.5 58,997.85 53.93,995.5 53.93,990.8" fill="#F7F4D0"/>
<text class="lt" x="76.7" y="996.2" textLength="34.93" lengthAdjust="spacingAndGlyphs">NURSE</text>
<circle cx="58" cy="1008.7" r="4.85" fill="#8E97AC"/>
<text class="lt" x="76.7" y="1012.4" textLength="51.73" lengthAdjust="spacingAndGlyphs">encounter</text>
<polygon points="58,1019.55 62.07,1021.9 62.07,1026.6 58,1028.95 53.93,1026.6 53.93,1021.9" fill="#F1F1EA"/>
<text class="lt" x="76.7" y="1027.4" textLength="89.46" lengthAdjust="spacingAndGlyphs">OTHER CLINICIAN</text>
<polygon points="58,1035.1 62.07,1037.45 62.07,1042.15 58,1044.5 53.93,1042.15 53.93,1037.45" fill="#E3A1A8"/>
<text class="lt" x="76.7" y="1043.3" textLength="41.73" lengthAdjust="spacingAndGlyphs">OTHERS</text>
<polygon points="58,1050.65 62.07,1053 62.07,1057.7 58,1060.05 53.93,1057.7 53.93,1053" fill="#DCE3F1"/>
<text class="lt" x="76.7" y="1058.9" textLength="50.79" lengthAdjust="spacingAndGlyphs">SURGEON</text>
<polygon points="58,1066.2 62.07,1068.55 62.07,1073.25 58,1075.6 53.93,1073.25 53.93,1068.55" fill="#E8C57A"/>
<text class="lt" x="76.7" y="1074.2" textLength="62.54" lengthAdjust="spacingAndGlyphs">TECHNICIAN</text>
<rect class="lg" x="48.6" y="1265.4" width="138.6" height="114" rx="0.8"/>
<line class="pl" x1="61.8" y1="1278.3" x2="136.8" y2="1278.3"/>
<circle cx="61.8" cy="1278.3" r="7.7" fill="#8E97AC"/>
<circle cx="86.9" cy="1278.3" r="7.7" fill="#8E97AC"/>
<circle cx="111.8" cy="1278.3" r="7.7" fill="#8E97AC"/>
<circle cx="136.8" cy="1278.3" r="7.7" fill="#8E97AC"/>
<text class="pv" x="150.1" y="1281.7" textLength="28.34" lengthAdjust="spacingAndGlyphs">0.110</text>
<line class="pl" x1="61.8" y1="1299.75" x2="136.8" y2="1299.75"/>
<circle cx="61.8" cy="1299.75" r="7.7" fill="#8E97AC"/>
<polygon points="93.92,1302.66 89.81,1306.77 83.99,1306.77 79.88,1302.66 79.88,1296.84 83.99,1292.73 89.81,1292.73 93.92,1296.84" fill="#E8E1CC"/>
<polygon points="118.82,1302.66 114.71,1306.77 108.89,1306.77 104.78,1302.66 104.78,1296.84 108.89,1292.73 114.71,1292.73 118.82,1296.84" fill="#E8E1CC"/>
<polygon points="143.82,1302.66 139.71,1306.77 133.89,1306.77 129.78,1302.66 129.78,1296.84 133.89,1292.73 139.71,1292.73 143.82,1296.84" fill="#E8E1CC"/>
<text class="pv" x="150.1" y="1303.15" textLength="28.34" lengthAdjust="spacingAndGlyphs">0.087</text>
<line class="pl" x1="61.8" y1="1321.2" x2="136.8" y2="1321.2"/>
<circle cx="61.8" cy="1321.2" r="7.7" fill="#8E97AC"/>
<polygon points="86.9,1313.6 93.48,1317.4 93.48,1325 86.9,1328.8 80.32,1325 80.32,1317.4" fill="#E3A1A8"/>
<polygon points="111.8,1313.6 118.38,1317.4 118.38,1325 111.8,1328.8 105.22,1325 105.22,1317.4" fill="#E3A1A8"/>
<polygon points="136.8,1313.6 143.38,1317.4 143.38,1325 136.8,1328.8 130.22,1325 130.22,1317.4" fill="#E3A1A8"/>
<text class="pv" x="150.1" y="1324.6" textLength="28.34" lengthAdjust="spacingAndGlyphs">0.063</text>
<line class="pl" x1="61.8" y1="1342.65" x2="136.8" y2="1342.65"/>
<circle cx="61.8" cy="1342.65" r="7.7" fill="#8E97AC"/>
<polygon points="93.92,1345.56 89.81,1349.67 83.99,1349.67 79.88,1345.56 79.88,1339.74 83.99,1335.63 89.81,1335.63 93.92,1339.74" fill="#CDD1E3"/>
<circle cx="111.8" cy="1342.65" r="7.7" fill="#8E97AC"/>
<circle cx="136.8" cy="1342.65" r="7.7" fill="#8E97AC"/>
<text class="pv" x="150.1" y="1346.05" textLength="28.34" lengthAdjust="spacingAndGlyphs">0.060</text>
<line class="pl" x1="61.8" y1="1364.1" x2="136.8" y2="1364.1"/>
<circle cx="61.8" cy="1364.1" r="7.7" fill="#8E97AC"/>
<polygon points="86.9,1356.5 93.48,1360.3 93.48,1367.9 86.9,1371.7 80.32,1367.9 80.32,1360.3" fill="#F1F1EA"/>
<circle cx="111.8" cy="1364.1" r="7.7" fill="#8E97AC"/>
<circle cx="136.8" cy="1364.1" r="7.7" fill="#8E97AC"/>
<text class="pv" x="150.1" y="1367.5" textLength="28.34" lengthAdjust="spacingAndGlyphs">0.060</text></g>
</svg>
</body></html>
